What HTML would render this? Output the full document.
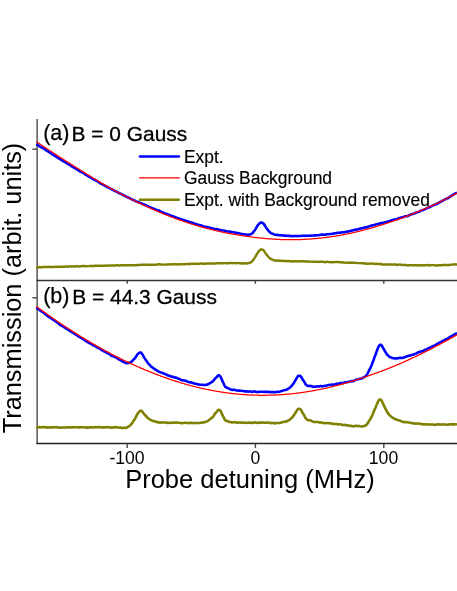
<!DOCTYPE html>
<html><head><meta charset="utf-8">
<style>
html,body{margin:0;padding:0;background:#fff;}
body{width:457px;height:591px;overflow:hidden;position:relative;font-family:"Liberation Sans",sans-serif;}
svg{position:absolute;left:0;top:0;will-change:transform;}
text{font-family:"Liberation Sans",sans-serif;fill:#000;}
</style></head><body>
<svg width="457" height="591" viewBox="0 0 457 591">
<rect width="457" height="591" fill="#fff"/>
<!-- axes -->
<g fill="none">
<line x1="37.15" y1="119" x2="37.15" y2="444" stroke="#555" stroke-width="1.5"/>
<line x1="36.4" y1="280.55" x2="457" y2="280.55" stroke="#333" stroke-width="1.6"/>
<line x1="36.4" y1="443.45" x2="457" y2="443.45" stroke="#222" stroke-width="1.4"/>
<g stroke="#444" stroke-width="1.4">
<line x1="32.3" y1="149.2" x2="37" y2="149.2"/>
<line x1="32.3" y1="297.8" x2="37" y2="297.8"/>
<line x1="127.2" y1="281" x2="127.2" y2="283.8"/>
<line x1="255.4" y1="281" x2="255.4" y2="283.8"/>
<line x1="383.8" y1="281" x2="383.8" y2="283.8"/>
<line x1="127.2" y1="443.5" x2="127.2" y2="447.9"/>
<line x1="255.4" y1="443.5" x2="255.4" y2="447.9"/>
<line x1="383.8" y1="443.5" x2="383.8" y2="447.9"/>
</g>
</g>
<g fill="none" stroke-linejoin="round" stroke-linecap="butt">
<path d="M36.4,267.3 L36.9,267.3 L37.4,267.4 L37.9,267.4 L38.4,267.4 L38.9,267.3 L39.4,267.3 L39.9,267.3 L40.4,267.3 L40.9,267.2 L41.4,267.2 L41.9,267.2 L42.4,267.1 L42.9,267.0 L43.4,266.9 L43.9,266.9 L44.4,266.9 L44.9,267.0 L45.4,267.0 L45.9,267.1 L46.4,267.0 L46.9,267.0 L47.4,266.9 L47.9,266.9 L48.4,266.9 L48.9,267.0 L49.4,266.9 L49.9,266.8 L50.4,266.9 L50.9,266.9 L51.4,267.0 L51.9,267.0 L52.4,267.0 L52.9,267.0 L53.4,266.9 L53.9,266.9 L54.4,266.9 L54.9,266.8 L55.4,266.8 L55.9,266.8 L56.4,266.9 L56.9,266.8 L57.4,266.8 L57.9,266.9 L58.4,266.9 L58.9,266.9 L59.4,266.9 L59.9,266.8 L60.4,266.7 L60.9,266.8 L61.4,266.8 L61.9,266.8 L62.4,266.8 L62.9,266.8 L63.4,266.8 L63.9,266.7 L64.4,266.7 L64.9,266.6 L65.4,266.5 L65.9,266.5 L66.4,266.5 L66.9,266.6 L67.4,266.7 L67.9,266.6 L68.4,266.5 L68.9,266.4 L69.4,266.4 L69.9,266.3 L70.4,266.4 L70.9,266.5 L71.4,266.6 L71.9,266.6 L72.4,266.5 L72.9,266.4 L73.4,266.4 L73.9,266.5 L74.4,266.4 L74.9,266.4 L75.4,266.4 L75.9,266.3 L76.4,266.3 L76.9,266.2 L77.4,266.3 L77.9,266.3 L78.4,266.4 L78.9,266.4 L79.4,266.4 L79.9,266.4 L80.4,266.3 L80.9,266.3 L81.4,266.3 L81.9,266.2 L82.4,266.1 L82.9,266.0 L83.4,265.9 L83.9,265.9 L84.4,265.9 L84.9,266.1 L85.4,266.2 L85.9,266.2 L86.4,266.1 L86.9,266.1 L87.4,266.1 L87.9,266.1 L88.4,266.1 L88.9,266.1 L89.4,266.1 L89.9,266.0 L90.4,266.0 L90.9,265.9 L91.4,265.9 L91.9,265.9 L92.4,265.9 L92.9,265.9 L93.4,266.0 L93.9,266.0 L94.4,265.9 L94.9,265.8 L95.4,265.7 L95.9,265.6 L96.4,265.6 L96.9,265.7 L97.4,265.7 L97.9,265.7 L98.4,265.7 L98.9,265.8 L99.4,265.8 L99.9,265.8 L100.4,265.8 L100.9,265.8 L101.4,265.9 L101.9,265.9 L102.4,265.8 L102.9,265.7 L103.4,265.7 L103.9,265.7 L104.4,265.7 L104.9,265.7 L105.4,265.6 L105.9,265.5 L106.4,265.5 L106.9,265.6 L107.4,265.7 L107.9,265.7 L108.4,265.7 L108.9,265.6 L109.4,265.5 L109.9,265.5 L110.4,265.5 L110.9,265.5 L111.4,265.5 L111.9,265.4 L112.4,265.4 L112.9,265.4 L113.4,265.5 L113.9,265.5 L114.4,265.5 L114.9,265.5 L115.4,265.5 L115.9,265.4 L116.4,265.3 L116.9,265.3 L117.4,265.3 L117.9,265.4 L118.4,265.4 L118.9,265.4 L119.4,265.4 L119.9,265.4 L120.4,265.3 L120.9,265.2 L121.4,265.2 L121.9,265.2 L122.4,265.3 L122.9,265.3 L123.4,265.3 L123.9,265.3 L124.4,265.3 L124.9,265.3 L125.4,265.3 L125.9,265.3 L126.4,265.3 L126.9,265.3 L127.4,265.4 L127.9,265.4 L128.4,265.3 L128.9,265.2 L129.4,265.1 L129.9,265.2 L130.4,265.3 L130.9,265.3 L131.4,265.3 L131.9,265.3 L132.4,265.3 L132.9,265.3 L133.4,265.2 L133.9,265.2 L134.4,265.1 L134.9,265.2 L135.4,265.2 L135.9,265.4 L136.4,265.3 L136.9,265.2 L137.4,265.0 L137.9,264.9 L138.4,264.9 L138.9,265.0 L139.4,265.0 L139.9,264.9 L140.4,264.8 L140.9,264.7 L141.4,264.8 L141.9,264.9 L142.4,264.9 L142.9,264.8 L143.4,264.8 L143.9,264.7 L144.4,264.7 L144.9,264.7 L145.4,264.7 L145.9,264.8 L146.4,264.8 L146.9,264.8 L147.4,264.7 L147.9,264.7 L148.4,264.6 L148.9,264.7 L149.4,264.7 L149.9,264.8 L150.4,264.9 L150.9,264.9 L151.4,264.9 L151.9,264.8 L152.4,264.8 L152.9,264.7 L153.4,264.7 L153.9,264.6 L154.4,264.6 L154.9,264.7 L155.4,264.7 L155.9,264.7 L156.4,264.7 L156.9,264.7 L157.4,264.6 L157.9,264.4 L158.4,264.2 L158.9,264.2 L159.4,264.2 L159.9,264.4 L160.4,264.6 L160.9,264.6 L161.4,264.5 L161.9,264.5 L162.4,264.6 L162.9,264.6 L163.4,264.6 L163.9,264.6 L164.4,264.6 L164.9,264.6 L165.4,264.6 L165.9,264.5 L166.4,264.4 L166.9,264.4 L167.4,264.4 L167.9,264.4 L168.4,264.4 L168.9,264.3 L169.4,264.3 L169.9,264.4 L170.4,264.5 L170.9,264.6 L171.4,264.5 L171.9,264.4 L172.4,264.3 L172.9,264.2 L173.4,264.2 L173.9,264.2 L174.4,264.2 L174.9,264.2 L175.4,264.2 L175.9,264.3 L176.4,264.4 L176.9,264.4 L177.4,264.4 L177.9,264.3 L178.4,264.2 L178.9,264.1 L179.4,264.1 L179.9,264.3 L180.4,264.4 L180.9,264.4 L181.4,264.3 L181.9,264.2 L182.4,264.1 L182.9,264.1 L183.4,264.1 L183.9,264.2 L184.4,264.2 L184.9,264.2 L185.4,264.1 L185.9,264.0 L186.4,264.0 L186.9,264.1 L187.4,264.1 L187.9,264.0 L188.4,263.9 L188.9,263.9 L189.4,263.9 L189.9,263.9 L190.4,263.9 L190.9,263.9 L191.4,263.8 L191.9,263.8 L192.4,263.7 L192.9,263.7 L193.4,263.8 L193.9,263.8 L194.4,263.9 L194.9,263.9 L195.4,263.9 L195.9,263.8 L196.4,263.8 L196.9,263.7 L197.4,263.7 L197.9,263.8 L198.4,263.8 L198.9,263.9 L199.4,263.8 L199.9,263.7 L200.4,263.6 L200.9,263.5 L201.4,263.5 L201.9,263.5 L202.4,263.6 L202.9,263.7 L203.4,263.8 L203.9,263.8 L204.4,263.8 L204.9,263.8 L205.4,263.8 L205.9,263.6 L206.4,263.5 L206.9,263.4 L207.4,263.6 L207.9,263.6 L208.4,263.6 L208.9,263.5 L209.4,263.4 L209.9,263.4 L210.4,263.4 L210.9,263.5 L211.4,263.5 L211.9,263.5 L212.4,263.4 L212.9,263.4 L213.4,263.4 L213.9,263.5 L214.4,263.6 L214.9,263.6 L215.4,263.5 L215.9,263.4 L216.4,263.2 L216.9,263.1 L217.4,263.1 L217.9,263.2 L218.4,263.3 L218.9,263.3 L219.4,263.3 L219.9,263.1 L220.4,263.1 L220.9,263.3 L221.4,263.4 L221.9,263.5 L222.4,263.3 L222.9,263.2 L223.4,263.1 L223.9,263.1 L224.4,263.1 L224.9,263.1 L225.4,263.1 L225.9,263.2 L226.4,263.3 L226.9,263.4 L227.4,263.3 L227.9,263.2 L228.4,263.2 L228.9,263.1 L229.4,263.1 L229.9,263.0 L230.4,262.9 L230.9,263.0 L231.4,263.1 L231.9,263.1 L232.4,263.2 L232.9,263.1 L233.4,263.0 L233.9,263.0 L234.4,263.0 L234.9,263.1 L235.4,263.2 L235.9,263.2 L236.4,263.1 L236.9,263.0 L237.4,263.0 L237.9,263.1 L238.4,263.1 L238.9,263.1 L239.4,263.3 L239.9,263.3 L240.4,263.4 L240.9,263.2 L241.4,263.3 L241.9,263.3 L242.4,263.5 L242.9,263.5 L243.4,263.5 L243.9,263.3 L244.4,263.3 L244.9,263.2 L245.4,263.3 L245.9,263.4 L246.4,263.4 L247.0,263.4 L247.5,263.4 L248.0,263.2 L248.5,263.1 L249.0,263.0 L249.5,262.9 L250.0,262.7 L250.5,262.5 L251.0,262.2 L251.5,261.8 L252.0,261.4 L252.5,260.9 L253.0,260.3 L253.5,259.6 L254.0,258.9 L254.5,258.2 L255.0,257.4 L255.5,256.6 L256.0,255.7 L256.5,254.8 L257.0,253.9 L257.5,253.1 L258.0,252.3 L258.5,251.6 L259.0,251.0 L259.5,250.5 L260.0,250.1 L260.5,249.7 L261.0,249.4 L261.5,249.4 L262.0,249.5 L262.5,249.7 L263.0,249.9 L263.5,250.3 L264.0,250.8 L264.5,251.6 L265.0,252.3 L265.5,253.1 L266.0,253.8 L266.5,254.5 L267.0,255.2 L267.5,255.8 L268.0,256.4 L268.5,257.0 L269.0,257.5 L269.5,258.0 L270.0,258.4 L270.5,258.8 L271.0,259.1 L271.5,259.4 L272.0,259.5 L272.5,259.6 L273.0,259.8 L273.5,260.1 L274.0,260.3 L274.5,260.4 L275.0,260.4 L275.5,260.6 L276.0,260.7 L276.5,260.7 L277.0,260.6 L277.5,260.5 L278.0,260.5 L278.5,260.7 L279.0,260.8 L279.5,260.9 L280.0,260.8 L280.5,260.8 L281.0,260.8 L281.5,260.9 L282.0,260.8 L282.5,260.9 L283.0,260.9 L283.5,261.0 L284.0,260.9 L284.5,260.9 L285.0,260.9 L285.5,261.0 L286.0,261.2 L286.5,261.2 L287.0,261.1 L287.5,261.0 L288.0,260.9 L288.5,261.0 L289.0,261.1 L289.5,261.2 L290.0,261.2 L290.5,261.1 L291.0,261.2 L291.5,261.4 L292.0,261.5 L292.5,261.5 L293.0,261.4 L293.5,261.3 L294.0,261.2 L294.5,261.2 L295.0,261.2 L295.5,261.3 L296.0,261.3 L296.5,261.4 L297.0,261.4 L297.5,261.4 L298.0,261.3 L298.5,261.3 L299.0,261.3 L299.5,261.3 L300.0,261.4 L300.5,261.4 L301.0,261.4 L301.5,261.3 L302.0,261.3 L302.5,261.3 L303.0,261.3 L303.5,261.3 L304.0,261.3 L304.5,261.4 L305.0,261.5 L305.5,261.5 L306.0,261.5 L306.5,261.4 L307.0,261.4 L307.5,261.5 L308.0,261.5 L308.5,261.5 L309.0,261.5 L309.5,261.6 L310.0,261.6 L310.5,261.6 L311.0,261.6 L311.5,261.6 L312.0,261.6 L312.5,261.6 L313.0,261.7 L313.5,261.7 L314.0,261.7 L314.5,261.7 L315.0,261.7 L315.5,261.8 L316.0,261.8 L316.5,261.7 L317.0,261.7 L317.5,261.8 L318.0,261.9 L318.5,261.9 L319.0,261.8 L319.5,261.7 L320.0,261.7 L320.5,261.7 L321.0,261.6 L321.5,261.6 L322.0,261.6 L322.5,261.7 L323.0,261.8 L323.5,261.9 L324.0,262.0 L324.5,262.1 L325.0,262.2 L325.5,262.2 L326.0,262.0 L326.5,261.9 L327.0,261.8 L327.5,261.9 L328.0,262.0 L328.5,262.1 L329.0,262.1 L329.5,262.1 L330.0,262.0 L330.5,262.1 L331.0,262.2 L331.5,262.2 L332.0,262.2 L332.5,262.2 L333.0,262.1 L333.5,262.0 L334.0,262.0 L334.5,262.0 L335.0,262.1 L335.5,262.1 L336.0,262.1 L336.5,262.0 L337.0,262.0 L337.5,262.0 L338.0,262.0 L338.5,262.0 L339.0,262.1 L339.5,262.3 L340.0,262.3 L340.5,262.3 L341.0,262.3 L341.5,262.2 L342.0,262.2 L342.5,262.3 L343.0,262.4 L343.5,262.6 L344.0,262.7 L344.5,262.7 L345.0,262.6 L345.5,262.6 L346.0,262.6 L346.5,262.6 L347.0,262.6 L347.5,262.7 L348.0,262.8 L348.5,262.7 L349.0,262.7 L349.5,262.7 L350.0,262.8 L350.5,262.8 L351.0,262.8 L351.5,262.7 L352.0,262.7 L352.5,262.8 L353.0,262.9 L353.5,262.8 L354.0,262.8 L354.5,262.7 L355.0,262.7 L355.5,262.8 L356.0,262.9 L356.5,263.0 L357.0,263.1 L357.5,263.1 L358.0,263.1 L358.5,263.1 L359.0,263.1 L359.5,263.1 L360.0,263.1 L360.5,263.1 L361.0,263.1 L361.5,263.2 L362.0,263.2 L362.5,263.2 L363.0,263.2 L363.5,263.3 L364.0,263.3 L364.5,263.4 L365.0,263.4 L365.5,263.5 L366.0,263.7 L366.5,263.8 L367.0,263.8 L367.5,263.7 L368.0,263.7 L368.5,263.7 L369.0,263.6 L369.5,263.6 L370.0,263.6 L370.5,263.6 L371.0,263.5 L371.5,263.5 L372.0,263.5 L372.5,263.6 L373.0,263.7 L373.5,263.8 L374.0,263.8 L374.5,263.9 L375.0,263.9 L375.5,263.9 L376.0,263.8 L376.5,263.8 L377.0,263.9 L377.5,264.0 L378.0,264.0 L378.5,263.9 L379.0,264.0 L379.5,264.0 L380.0,264.0 L380.5,263.9 L381.0,264.0 L381.5,264.2 L382.0,264.4 L382.5,264.4 L383.0,264.4 L383.5,264.4 L384.0,264.4 L384.5,264.4 L385.0,264.4 L385.5,264.4 L386.0,264.4 L386.5,264.5 L387.0,264.5 L387.5,264.6 L388.0,264.7 L388.5,264.6 L389.0,264.4 L389.5,264.3 L390.0,264.4 L390.5,264.5 L391.0,264.6 L391.5,264.5 L392.0,264.5 L392.5,264.4 L393.0,264.4 L393.5,264.5 L394.0,264.5 L394.5,264.4 L395.0,264.5 L395.5,264.5 L396.0,264.7 L396.5,264.8 L397.0,265.0 L397.5,264.9 L398.0,264.8 L398.5,264.6 L399.0,264.5 L399.5,264.6 L400.0,264.6 L400.5,264.7 L401.0,264.7 L401.5,264.7 L402.0,264.8 L402.5,264.9 L403.0,264.9 L403.5,264.9 L404.0,264.9 L404.5,264.9 L405.0,264.8 L405.5,264.9 L406.0,265.1 L406.5,265.3 L407.0,265.4 L407.5,265.4 L408.0,265.3 L408.5,265.2 L409.0,265.2 L409.5,265.2 L410.0,265.2 L410.5,265.1 L411.0,265.1 L411.5,265.1 L412.0,265.1 L412.5,265.2 L413.0,265.3 L413.5,265.4 L414.0,265.4 L414.5,265.3 L415.0,265.3 L415.5,265.3 L416.0,265.3 L416.5,265.3 L417.0,265.3 L417.5,265.4 L418.0,265.4 L418.5,265.4 L419.0,265.3 L419.5,265.3 L420.0,265.3 L420.5,265.3 L421.0,265.2 L421.5,265.2 L422.0,265.2 L422.5,265.4 L423.0,265.4 L423.5,265.4 L424.0,265.3 L424.5,265.3 L425.0,265.3 L425.5,265.3 L426.0,265.2 L426.5,265.1 L427.0,265.0 L427.5,265.0 L428.0,265.1 L428.5,265.2 L429.0,265.3 L429.5,265.4 L430.0,265.4 L430.5,265.3 L431.0,265.1 L431.5,265.1 L432.0,265.1 L432.5,265.1 L433.0,265.1 L433.5,265.1 L434.0,265.1 L434.5,265.2 L435.0,265.3 L435.5,265.4 L436.0,265.4 L436.5,265.4 L437.0,265.4 L437.5,265.4 L438.0,265.4 L438.5,265.3 L439.0,265.2 L439.5,265.1 L440.0,265.2 L440.5,265.1 L441.0,265.2 L441.5,265.2 L442.0,265.2 L442.5,265.1 L443.0,265.0 L443.5,264.9 L444.0,265.0 L444.5,265.0 L445.0,265.0 L445.5,265.0 L446.0,265.0 L446.5,265.0 L447.0,265.0 L447.5,265.1 L448.0,265.2 L448.5,265.2 L449.0,265.0 L449.5,264.9 L450.0,264.8 L450.5,264.8 L451.0,264.7 L451.5,264.7 L452.0,264.6 L452.5,264.6 L453.0,264.5 L453.5,264.4 L454.0,264.3 L454.5,264.4 L455.0,264.4 L455.5,264.5 L456.0,264.4 L456.5,264.4 L457.0,264.4" stroke="#808000" stroke-width="2.45"/>
<path d="M36.4,144.1 L36.9,144.5 L37.4,144.9 L37.9,145.2 L38.4,145.5 L38.9,145.8 L39.4,146.2 L39.9,146.5 L40.4,146.8 L40.9,147.1 L41.4,147.4 L41.9,147.7 L42.4,147.9 L42.9,148.1 L43.4,148.3 L43.9,148.7 L44.4,149.0 L44.9,149.4 L45.4,149.8 L45.9,150.2 L46.4,150.5 L46.9,150.7 L47.4,151.0 L47.9,151.3 L48.4,151.7 L48.9,152.1 L49.4,152.3 L49.9,152.6 L50.4,152.9 L50.9,153.3 L51.4,153.7 L51.9,154.0 L52.4,154.4 L52.9,154.7 L53.4,155.0 L53.9,155.3 L54.4,155.6 L54.9,155.9 L55.4,156.2 L55.9,156.5 L56.4,156.9 L56.9,157.2 L57.4,157.5 L57.9,157.8 L58.4,158.2 L58.9,158.6 L59.4,158.8 L59.9,159.1 L60.4,159.3 L60.9,159.7 L61.4,160.0 L61.9,160.4 L62.4,160.7 L62.9,161.0 L63.4,161.3 L63.9,161.5 L64.4,161.8 L64.9,162.0 L65.4,162.3 L65.9,162.6 L66.4,162.9 L66.9,163.3 L67.4,163.7 L67.9,164.0 L68.4,164.2 L68.9,164.4 L69.4,164.7 L69.9,165.0 L70.4,165.4 L70.9,165.8 L71.4,166.2 L71.9,166.5 L72.4,166.7 L72.9,167.0 L73.4,167.3 L73.9,167.7 L74.4,167.9 L74.9,168.2 L75.4,168.5 L75.9,168.8 L76.4,169.0 L76.9,169.3 L77.4,169.6 L77.9,170.0 L78.4,170.4 L78.9,170.7 L79.4,171.0 L79.9,171.3 L80.4,171.6 L80.9,171.9 L81.4,172.2 L81.9,172.4 L82.4,172.6 L82.9,172.8 L83.4,173.0 L83.9,173.3 L84.4,173.7 L84.9,174.1 L85.4,174.6 L85.9,174.9 L86.4,175.1 L86.9,175.4 L87.4,175.7 L87.9,176.0 L88.4,176.3 L88.9,176.6 L89.4,176.9 L89.9,177.2 L90.4,177.4 L90.9,177.7 L91.4,178.0 L91.9,178.2 L92.4,178.6 L92.9,178.9 L93.4,179.3 L93.9,179.5 L94.4,179.8 L94.9,180.0 L95.4,180.2 L95.9,180.4 L96.4,180.7 L96.9,181.1 L97.4,181.3 L97.9,181.7 L98.4,182.0 L98.9,182.4 L99.4,182.7 L99.9,183.0 L100.4,183.2 L100.9,183.6 L101.4,183.9 L101.9,184.2 L102.4,184.5 L102.9,184.6 L103.4,184.9 L103.9,185.2 L104.4,185.5 L104.9,185.7 L105.4,186.0 L105.9,186.2 L106.4,186.5 L106.9,186.8 L107.4,187.2 L107.9,187.5 L108.4,187.7 L108.9,187.9 L109.4,188.1 L109.9,188.3 L110.4,188.6 L110.9,188.9 L111.4,189.1 L111.9,189.3 L112.4,189.6 L112.9,189.9 L113.4,190.2 L113.9,190.5 L114.4,190.7 L114.9,191.0 L115.4,191.3 L115.9,191.5 L116.4,191.6 L116.9,191.8 L117.4,192.1 L117.9,192.5 L118.4,192.7 L118.9,193.0 L119.4,193.2 L119.9,193.5 L120.4,193.7 L120.9,193.9 L121.4,194.1 L121.9,194.4 L122.4,194.7 L122.9,195.0 L123.4,195.2 L123.9,195.4 L124.4,195.7 L124.9,195.9 L125.4,196.2 L125.9,196.4 L126.4,196.7 L126.9,197.0 L127.4,197.3 L127.9,197.5 L128.4,197.6 L128.9,197.8 L129.4,198.0 L129.9,198.4 L130.4,198.7 L130.9,198.9 L131.4,199.2 L131.9,199.4 L132.4,199.6 L132.9,199.9 L133.4,200.0 L133.9,200.3 L134.4,200.4 L134.9,200.7 L135.4,201.0 L135.9,201.4 L136.4,201.6 L136.9,201.7 L137.4,201.7 L137.9,201.8 L138.4,202.1 L138.9,202.4 L139.4,202.6 L139.9,202.8 L140.4,202.9 L140.9,203.1 L141.4,203.4 L141.9,203.7 L142.4,203.9 L142.9,204.1 L143.4,204.2 L143.9,204.4 L144.4,204.6 L144.9,204.8 L145.4,205.1 L145.9,205.4 L146.4,205.7 L146.9,205.9 L147.4,206.0 L147.9,206.2 L148.4,206.4 L148.9,206.6 L149.4,206.9 L149.9,207.1 L150.4,207.5 L150.9,207.7 L151.4,208.0 L151.9,208.1 L152.4,208.3 L152.9,208.4 L153.4,208.6 L153.9,208.7 L154.4,209.0 L154.9,209.3 L155.4,209.5 L155.9,209.7 L156.4,209.9 L156.9,210.1 L157.4,210.2 L157.9,210.3 L158.4,210.3 L158.9,210.4 L159.4,210.7 L159.9,211.1 L160.4,211.5 L160.9,211.7 L161.4,211.8 L161.9,212.0 L162.4,212.3 L162.9,212.6 L163.4,212.7 L163.9,212.9 L164.4,213.2 L164.9,213.4 L165.4,213.6 L165.9,213.7 L166.4,213.8 L166.9,214.0 L167.4,214.2 L167.9,214.4 L168.4,214.6 L168.9,214.7 L169.4,214.9 L169.9,215.2 L170.4,215.5 L170.9,215.7 L171.4,215.9 L171.9,216.0 L172.4,216.0 L172.9,216.1 L173.4,216.4 L173.9,216.6 L174.4,216.8 L174.9,216.9 L175.4,217.1 L175.9,217.4 L176.4,217.7 L176.9,217.9 L177.4,218.0 L177.9,218.2 L178.4,218.2 L178.9,218.4 L179.4,218.5 L179.9,218.9 L180.4,219.1 L180.9,219.3 L181.4,219.4 L181.9,219.5 L182.4,219.7 L182.9,219.8 L183.4,220.0 L183.9,220.2 L184.4,220.5 L184.9,220.6 L185.4,220.7 L185.9,220.8 L186.4,221.0 L186.9,221.3 L187.4,221.4 L187.9,221.5 L188.4,221.6 L188.9,221.7 L189.4,221.9 L189.9,222.2 L190.4,222.3 L190.9,222.4 L191.4,222.5 L191.9,222.7 L192.4,222.8 L192.9,223.0 L193.4,223.2 L193.9,223.4 L194.4,223.6 L194.9,223.8 L195.4,224.0 L195.9,224.1 L196.4,224.2 L196.9,224.3 L197.4,224.4 L197.9,224.6 L198.4,224.9 L198.9,225.1 L199.4,225.1 L199.9,225.2 L200.4,225.2 L200.9,225.4 L201.4,225.5 L201.9,225.7 L202.4,225.9 L202.9,226.1 L203.4,226.4 L203.9,226.5 L204.4,226.7 L204.9,226.8 L205.4,226.9 L205.9,226.9 L206.4,226.9 L206.9,227.0 L207.4,227.2 L207.9,227.5 L208.4,227.5 L208.9,227.5 L209.4,227.6 L209.9,227.7 L210.4,227.9 L210.9,228.1 L211.4,228.2 L211.9,228.3 L212.4,228.4 L212.9,228.5 L213.4,228.6 L213.9,228.8 L214.4,229.0 L214.9,229.2 L215.4,229.2 L215.9,229.2 L216.4,229.1 L216.9,229.1 L217.4,229.2 L217.9,229.4 L218.4,229.6 L218.9,229.8 L219.4,229.8 L219.9,229.8 L220.4,229.9 L220.9,230.1 L221.4,230.4 L221.9,230.5 L222.4,230.5 L222.9,230.5 L223.4,230.5 L223.9,230.6 L224.4,230.7 L224.9,230.8 L225.4,230.9 L225.9,231.0 L226.4,231.3 L226.9,231.4 L227.4,231.5 L227.9,231.5 L228.4,231.5 L228.9,231.6 L229.4,231.6 L229.9,231.6 L230.4,231.6 L230.9,231.8 L231.4,231.9 L231.9,232.1 L232.4,232.2 L232.9,232.2 L233.4,232.2 L233.9,232.3 L234.4,232.4 L234.9,232.6 L235.4,232.7 L235.9,232.8 L236.4,232.8 L236.9,232.8 L237.4,232.9 L237.9,233.1 L238.4,233.2 L238.9,233.3 L239.4,233.5 L239.9,233.6 L240.4,233.7 L240.9,233.7 L241.4,233.8 L241.9,233.9 L242.4,234.2 L242.9,234.2 L243.4,234.3 L243.9,234.2 L244.4,234.3 L244.9,234.3 L245.4,234.4 L245.9,234.6 L246.4,234.7 L247.0,234.8 L247.5,234.8 L248.0,234.7 L248.5,234.7 L249.0,234.6 L249.5,234.6 L250.0,234.5 L250.5,234.3 L251.0,234.1 L251.5,233.8 L252.0,233.4 L252.5,233.0 L253.0,232.5 L253.5,231.8 L254.0,231.2 L254.5,230.6 L255.0,229.9 L255.5,229.1 L256.0,228.2 L256.5,227.4 L257.0,226.5 L257.5,225.8 L258.0,225.1 L258.5,224.4 L259.0,223.9 L259.5,223.4 L260.0,223.0 L260.5,222.7 L261.0,222.5 L261.5,222.5 L262.0,222.7 L262.5,223.0 L263.0,223.2 L263.5,223.6 L264.0,224.2 L264.5,225.0 L265.0,225.8 L265.5,226.6 L266.0,227.4 L266.5,228.2 L267.0,228.8 L267.5,229.5 L268.0,230.1 L268.5,230.8 L269.0,231.3 L269.5,231.8 L270.0,232.3 L270.5,232.7 L271.0,233.1 L271.5,233.4 L272.0,233.5 L272.5,233.7 L273.0,233.9 L273.5,234.2 L274.0,234.4 L274.5,234.6 L275.0,234.7 L275.5,234.8 L276.0,234.9 L276.5,235.0 L277.0,234.9 L277.5,234.9 L278.0,234.9 L278.5,235.1 L279.0,235.2 L279.5,235.3 L280.0,235.3 L280.5,235.3 L281.0,235.3 L281.5,235.4 L282.0,235.4 L282.5,235.5 L283.0,235.5 L283.5,235.6 L284.0,235.6 L284.5,235.6 L285.0,235.6 L285.5,235.7 L286.0,235.9 L286.5,235.9 L287.0,235.8 L287.5,235.7 L288.0,235.7 L288.5,235.8 L289.0,235.9 L289.5,235.9 L290.0,235.9 L290.5,235.9 L291.0,236.0 L291.5,236.1 L292.0,236.3 L292.5,236.3 L293.0,236.2 L293.5,236.0 L294.0,236.0 L294.5,236.0 L295.0,236.0 L295.5,236.0 L296.0,236.0 L296.5,236.1 L297.0,236.1 L297.5,236.1 L298.0,236.0 L298.5,236.0 L299.0,235.9 L299.5,236.0 L300.0,236.0 L300.5,236.0 L301.0,236.0 L301.5,235.9 L302.0,235.9 L302.5,235.8 L303.0,235.8 L303.5,235.8 L304.0,235.8 L304.5,235.8 L305.0,235.9 L305.5,235.9 L306.0,235.8 L306.5,235.8 L307.0,235.7 L307.5,235.7 L308.0,235.7 L308.5,235.7 L309.0,235.7 L309.5,235.7 L310.0,235.7 L310.5,235.7 L311.0,235.6 L311.5,235.6 L312.0,235.5 L312.5,235.5 L313.0,235.6 L313.5,235.5 L314.0,235.5 L314.5,235.4 L315.0,235.4 L315.5,235.4 L316.0,235.4 L316.5,235.3 L317.0,235.2 L317.5,235.3 L318.0,235.3 L318.5,235.3 L319.0,235.1 L319.5,235.0 L320.0,234.9 L320.5,234.8 L321.0,234.7 L321.5,234.6 L322.0,234.6 L322.5,234.6 L323.0,234.6 L323.5,234.7 L324.0,234.7 L324.5,234.8 L325.0,234.8 L325.5,234.7 L326.0,234.5 L326.5,234.3 L327.0,234.2 L327.5,234.2 L328.0,234.2 L328.5,234.3 L329.0,234.2 L329.5,234.1 L330.0,234.0 L330.5,234.0 L331.0,234.0 L331.5,234.0 L332.0,233.9 L332.5,233.8 L333.0,233.7 L333.5,233.5 L334.0,233.4 L334.5,233.3 L335.0,233.3 L335.5,233.3 L336.0,233.2 L336.5,233.0 L337.0,233.0 L337.5,232.8 L338.0,232.7 L338.5,232.7 L339.0,232.7 L339.5,232.8 L340.0,232.8 L340.5,232.7 L341.0,232.5 L341.5,232.4 L342.0,232.2 L342.5,232.2 L343.0,232.3 L343.5,232.4 L344.0,232.4 L344.5,232.2 L345.0,232.1 L345.5,231.9 L346.0,231.8 L346.5,231.7 L347.0,231.7 L347.5,231.6 L348.0,231.6 L348.5,231.4 L349.0,231.3 L349.5,231.2 L350.0,231.1 L350.5,231.0 L351.0,230.9 L351.5,230.6 L352.0,230.5 L352.5,230.5 L353.0,230.4 L353.5,230.2 L354.0,230.0 L354.5,229.9 L355.0,229.7 L355.5,229.7 L356.0,229.6 L356.5,229.6 L357.0,229.5 L357.5,229.4 L358.0,229.2 L358.5,229.2 L359.0,229.0 L359.5,228.9 L360.0,228.6 L360.5,228.5 L361.0,228.4 L361.5,228.3 L362.0,228.2 L362.5,228.1 L363.0,227.9 L363.5,227.8 L364.0,227.7 L364.5,227.6 L365.0,227.4 L365.5,227.4 L366.0,227.4 L366.5,227.4 L367.0,227.3 L367.5,227.0 L368.0,226.8 L368.5,226.6 L369.0,226.4 L369.5,226.2 L370.0,226.1 L370.5,225.9 L371.0,225.7 L371.5,225.5 L372.0,225.4 L372.5,225.4 L373.0,225.3 L373.5,225.2 L374.0,225.1 L374.5,225.0 L375.0,224.8 L375.5,224.7 L376.0,224.4 L376.5,224.3 L377.0,224.2 L377.5,224.1 L378.0,224.0 L378.5,223.8 L379.0,223.7 L379.5,223.5 L380.0,223.4 L380.5,223.2 L381.0,223.1 L381.5,223.1 L382.0,223.2 L382.5,223.0 L383.0,222.9 L383.5,222.7 L384.0,222.6 L384.5,222.4 L385.0,222.3 L385.5,222.1 L386.0,222.0 L386.5,221.9 L387.0,221.8 L387.5,221.8 L388.0,221.7 L388.5,221.4 L389.0,221.1 L389.5,220.9 L390.0,220.8 L390.5,220.7 L391.0,220.7 L391.5,220.5 L392.0,220.2 L392.5,220.0 L393.0,219.9 L393.5,219.8 L394.0,219.7 L394.5,219.5 L395.0,219.3 L395.5,219.2 L396.0,219.2 L396.5,219.2 L397.0,219.2 L397.5,219.0 L398.0,218.7 L398.5,218.3 L399.0,218.1 L399.5,218.0 L400.0,217.9 L400.5,217.8 L401.0,217.6 L401.5,217.5 L402.0,217.3 L402.5,217.3 L403.0,217.1 L403.5,217.0 L404.0,216.8 L404.5,216.6 L405.0,216.4 L405.5,216.2 L406.0,216.3 L406.5,216.3 L407.0,216.3 L407.5,216.0 L408.0,215.8 L408.5,215.5 L409.0,215.4 L409.5,215.1 L410.0,214.9 L410.5,214.7 L411.0,214.5 L411.5,214.3 L412.0,214.1 L412.5,214.0 L413.0,213.9 L413.5,213.8 L414.0,213.6 L414.5,213.4 L415.0,213.2 L415.5,213.0 L416.0,212.7 L416.5,212.6 L417.0,212.4 L417.5,212.3 L418.0,212.1 L418.5,211.9 L419.0,211.6 L419.5,211.4 L420.0,211.2 L420.5,211.0 L421.0,210.6 L421.5,210.4 L422.0,210.3 L422.5,210.3 L423.0,210.1 L423.5,209.9 L424.0,209.5 L424.5,209.3 L425.0,209.1 L425.5,208.9 L426.0,208.6 L426.5,208.3 L427.0,208.0 L427.5,207.8 L428.0,207.6 L428.5,207.5 L429.0,207.4 L429.5,207.3 L430.0,207.0 L430.5,206.7 L431.0,206.3 L431.5,206.0 L432.0,205.8 L432.5,205.6 L433.0,205.4 L433.5,205.2 L434.0,204.9 L434.5,204.8 L435.0,204.6 L435.5,204.5 L436.0,204.2 L436.5,204.0 L437.0,203.8 L437.5,203.6 L438.0,203.3 L438.5,203.0 L439.0,202.7 L439.5,202.3 L440.0,202.1 L440.5,201.8 L441.0,201.6 L441.5,201.4 L442.0,201.2 L442.5,200.8 L443.0,200.4 L443.5,200.1 L444.0,199.9 L444.5,199.7 L445.0,199.4 L445.5,199.2 L446.0,198.9 L446.5,198.7 L447.0,198.4 L447.5,198.3 L448.0,198.1 L448.5,197.8 L449.0,197.4 L449.5,197.0 L450.0,196.6 L450.5,196.4 L451.0,196.1 L451.5,195.8 L452.0,195.4 L452.5,195.1 L453.0,194.8 L453.5,194.4 L454.0,194.1 L454.5,193.8 L455.0,193.6 L455.5,193.4 L456.0,193.1 L456.5,192.8 L457.0,192.5" stroke="#0000ff" stroke-width="2.6"/>
<path d="M36.4,141.7 L36.9,142.0 L37.4,142.4 L37.9,142.7 L38.4,143.0 L38.9,143.4 L39.4,143.7 L39.9,144.0 L40.4,144.4 L40.9,144.7 L41.4,145.0 L41.9,145.4 L42.4,145.7 L42.9,146.0 L43.4,146.4 L43.9,146.7 L44.4,147.0 L44.9,147.4 L45.4,147.7 L45.9,148.0 L46.4,148.4 L46.9,148.7 L47.4,149.0 L47.9,149.3 L48.4,149.7 L48.9,150.0 L49.4,150.3 L49.9,150.7 L50.4,151.0 L50.9,151.3 L51.4,151.6 L51.9,152.0 L52.4,152.3 L52.9,152.6 L53.4,153.0 L53.9,153.3 L54.4,153.6 L54.9,153.9 L55.4,154.3 L55.9,154.6 L56.4,154.9 L56.9,155.2 L57.4,155.6 L57.9,155.9 L58.4,156.2 L58.9,156.5 L59.4,156.8 L59.9,157.2 L60.4,157.5 L60.9,157.8 L61.4,158.1 L61.9,158.5 L62.4,158.8 L62.9,159.1 L63.4,159.4 L63.9,159.7 L64.4,160.1 L64.9,160.4 L65.4,160.7 L65.9,161.0 L66.4,161.3 L66.9,161.6 L67.4,162.0 L67.9,162.3 L68.4,162.6 L68.9,162.9 L69.4,163.2 L69.9,163.5 L70.4,163.9 L70.9,164.2 L71.4,164.5 L71.9,164.8 L72.4,165.1 L72.9,165.4 L73.4,165.8 L73.9,166.1 L74.4,166.4 L74.9,166.7 L75.4,167.0 L75.9,167.3 L76.4,167.6 L76.9,168.0 L77.4,168.3 L77.9,168.6 L78.4,168.9 L78.9,169.2 L79.4,169.5 L79.9,169.8 L80.4,170.2 L80.9,170.5 L81.4,170.8 L81.9,171.1 L82.4,171.4 L82.9,171.7 L83.4,172.0 L83.9,172.3 L84.4,172.6 L84.9,173.0 L85.4,173.3 L85.9,173.6 L86.4,173.9 L86.9,174.2 L87.4,174.5 L87.9,174.8 L88.4,175.1 L88.9,175.4 L89.4,175.7 L89.9,176.0 L90.4,176.4 L90.9,176.7 L91.4,177.0 L91.9,177.3 L92.4,177.6 L92.9,177.9 L93.4,178.2 L93.9,178.5 L94.4,178.8 L94.9,179.1 L95.4,179.4 L95.9,179.7 L96.4,180.0 L96.9,180.3 L97.4,180.7 L97.9,181.0 L98.4,181.3 L98.9,181.6 L99.4,181.9 L99.9,182.2 L100.4,182.5 L100.9,182.8 L101.4,183.1 L101.9,183.4 L102.4,183.6 L102.9,183.9 L103.4,184.2 L103.9,184.5 L104.4,184.8 L104.9,185.1 L105.4,185.4 L105.9,185.7 L106.4,186.0 L106.9,186.3 L107.4,186.6 L107.9,186.8 L108.4,187.1 L108.9,187.4 L109.4,187.7 L109.9,188.0 L110.4,188.2 L110.9,188.5 L111.4,188.8 L111.9,189.1 L112.4,189.3 L112.9,189.6 L113.4,189.9 L113.9,190.2 L114.4,190.4 L114.9,190.7 L115.4,191.0 L115.9,191.2 L116.4,191.5 L116.9,191.8 L117.4,192.0 L117.9,192.3 L118.4,192.6 L118.9,192.8 L119.4,193.1 L119.9,193.4 L120.4,193.6 L120.9,193.9 L121.4,194.2 L121.9,194.4 L122.4,194.7 L122.9,194.9 L123.4,195.2 L123.9,195.5 L124.4,195.7 L124.9,196.0 L125.4,196.2 L125.9,196.5 L126.4,196.7 L126.9,197.0 L127.4,197.3 L127.9,197.5 L128.4,197.8 L128.9,198.0 L129.4,198.3 L129.9,198.5 L130.4,198.8 L130.9,199.0 L131.4,199.3 L131.9,199.5 L132.4,199.8 L132.9,200.0 L133.4,200.2 L133.9,200.5 L134.4,200.7 L134.9,201.0 L135.4,201.2 L135.9,201.5 L136.4,201.7 L136.9,202.0 L137.4,202.2 L137.9,202.4 L138.4,202.7 L138.9,202.9 L139.4,203.2 L139.9,203.4 L140.4,203.6 L140.9,203.9 L141.4,204.1 L141.9,204.3 L142.4,204.6 L142.9,204.8 L143.4,205.0 L143.9,205.3 L144.4,205.5 L144.9,205.7 L145.4,206.0 L145.9,206.2 L146.4,206.4 L146.9,206.6 L147.4,206.9 L147.9,207.1 L148.4,207.3 L148.9,207.5 L149.4,207.8 L149.9,208.0 L150.4,208.2 L150.9,208.4 L151.4,208.7 L151.9,208.9 L152.4,209.1 L152.9,209.3 L153.4,209.5 L153.9,209.8 L154.4,210.0 L154.9,210.2 L155.4,210.4 L155.9,210.6 L156.4,210.8 L156.9,211.1 L157.4,211.3 L157.9,211.5 L158.4,211.7 L158.9,211.9 L159.4,212.1 L159.9,212.3 L160.4,212.5 L160.9,212.7 L161.4,213.0 L161.9,213.2 L162.4,213.4 L162.9,213.6 L163.4,213.8 L163.9,214.0 L164.4,214.2 L164.9,214.4 L165.4,214.6 L165.9,214.8 L166.4,215.0 L166.9,215.2 L167.4,215.4 L167.9,215.6 L168.4,215.8 L168.9,216.0 L169.4,216.2 L169.9,216.4 L170.4,216.6 L170.9,216.8 L171.4,217.0 L171.9,217.1 L172.4,217.3 L172.9,217.5 L173.4,217.7 L173.9,217.9 L174.4,218.1 L174.9,218.3 L175.4,218.5 L175.9,218.7 L176.4,218.8 L176.9,219.0 L177.4,219.2 L177.9,219.4 L178.4,219.6 L178.9,219.7 L179.4,219.9 L179.9,220.1 L180.4,220.3 L180.9,220.5 L181.4,220.6 L181.9,220.8 L182.4,221.0 L182.9,221.2 L183.4,221.3 L183.9,221.5 L184.4,221.7 L184.9,221.8 L185.4,222.0 L185.9,222.2 L186.4,222.3 L186.9,222.5 L187.4,222.7 L187.9,222.8 L188.4,223.0 L188.9,223.2 L189.4,223.3 L189.9,223.5 L190.4,223.6 L190.9,223.8 L191.4,224.0 L191.9,224.1 L192.4,224.3 L192.9,224.4 L193.4,224.6 L193.9,224.7 L194.4,224.9 L194.9,225.0 L195.4,225.2 L195.9,225.3 L196.4,225.5 L196.9,225.6 L197.4,225.8 L197.9,225.9 L198.4,226.1 L198.9,226.2 L199.4,226.4 L199.9,226.5 L200.4,226.6 L200.9,226.8 L201.4,226.9 L201.9,227.1 L202.4,227.2 L202.9,227.3 L203.4,227.5 L203.9,227.6 L204.4,227.8 L204.9,227.9 L205.4,228.0 L205.9,228.2 L206.4,228.3 L206.9,228.4 L207.4,228.6 L207.9,228.7 L208.4,228.8 L208.9,228.9 L209.4,229.1 L209.9,229.2 L210.4,229.3 L210.9,229.5 L211.4,229.6 L211.9,229.7 L212.4,229.8 L212.9,229.9 L213.4,230.1 L213.9,230.2 L214.4,230.3 L214.9,230.4 L215.4,230.5 L215.9,230.6 L216.4,230.8 L216.9,230.9 L217.4,231.0 L217.9,231.1 L218.4,231.2 L218.9,231.3 L219.4,231.4 L219.9,231.5 L220.4,231.6 L220.9,231.8 L221.4,231.9 L221.9,232.0 L222.4,232.1 L222.9,232.2 L223.4,232.3 L223.9,232.4 L224.4,232.5 L224.9,232.6 L225.4,232.7 L225.9,232.8 L226.4,232.9 L226.9,233.0 L227.4,233.1 L227.9,233.2 L228.4,233.3 L228.9,233.4 L229.4,233.5 L229.9,233.5 L230.4,233.6 L230.9,233.7 L231.4,233.8 L231.9,233.9 L232.4,234.0 L232.9,234.1 L233.4,234.2 L233.9,234.3 L234.4,234.4 L234.9,234.4 L235.4,234.5 L235.9,234.6 L236.4,234.7 L236.9,234.8 L237.4,234.9 L237.9,235.0 L238.4,235.0 L238.9,235.1 L239.4,235.2 L239.9,235.3 L240.4,235.4 L240.9,235.4 L241.4,235.5 L241.9,235.6 L242.4,235.7 L242.9,235.8 L243.4,235.8 L243.9,235.9 L244.4,236.0 L244.9,236.1 L245.4,236.1 L245.9,236.2 L246.4,236.3 L247.0,236.4 L247.5,236.4 L248.0,236.5 L248.5,236.6 L249.0,236.6 L249.5,236.7 L250.0,236.8 L250.5,236.8 L251.0,236.9 L251.5,237.0 L252.0,237.0 L252.5,237.1 L253.0,237.2 L253.5,237.2 L254.0,237.3 L254.5,237.4 L255.0,237.4 L255.5,237.5 L256.0,237.5 L256.5,237.6 L257.0,237.7 L257.5,237.7 L258.0,237.8 L258.5,237.8 L259.0,237.9 L259.5,237.9 L260.0,238.0 L260.5,238.0 L261.0,238.1 L261.5,238.1 L262.0,238.2 L262.5,238.2 L263.0,238.3 L263.5,238.3 L264.0,238.4 L264.5,238.4 L265.0,238.5 L265.5,238.5 L266.0,238.6 L266.5,238.6 L267.0,238.6 L267.5,238.7 L268.0,238.7 L268.5,238.8 L269.0,238.8 L269.5,238.8 L270.0,238.9 L270.5,238.9 L271.0,238.9 L271.5,239.0 L272.0,239.0 L272.5,239.0 L273.0,239.1 L273.5,239.1 L274.0,239.1 L274.5,239.2 L275.0,239.2 L275.5,239.2 L276.0,239.3 L276.5,239.3 L277.0,239.3 L277.5,239.3 L278.0,239.4 L278.5,239.4 L279.0,239.4 L279.5,239.4 L280.0,239.4 L280.5,239.5 L281.0,239.5 L281.5,239.5 L282.0,239.5 L282.5,239.5 L283.0,239.6 L283.5,239.6 L284.0,239.6 L284.5,239.6 L285.0,239.6 L285.5,239.6 L286.0,239.6 L286.5,239.6 L287.0,239.7 L287.5,239.7 L288.0,239.7 L288.5,239.7 L289.0,239.7 L289.5,239.7 L290.0,239.7 L290.5,239.7 L291.0,239.7 L291.5,239.7 L292.0,239.7 L292.5,239.7 L293.0,239.7 L293.5,239.7 L294.0,239.7 L294.5,239.7 L295.0,239.7 L295.5,239.7 L296.0,239.6 L296.5,239.6 L297.0,239.6 L297.5,239.6 L298.0,239.6 L298.5,239.6 L299.0,239.6 L299.5,239.5 L300.0,239.5 L300.5,239.5 L301.0,239.5 L301.5,239.5 L302.0,239.5 L302.5,239.4 L303.0,239.4 L303.5,239.4 L304.0,239.4 L304.5,239.3 L305.0,239.3 L305.5,239.3 L306.0,239.2 L306.5,239.2 L307.0,239.2 L307.5,239.2 L308.0,239.1 L308.5,239.1 L309.0,239.1 L309.5,239.0 L310.0,239.0 L310.5,239.0 L311.0,238.9 L311.5,238.9 L312.0,238.8 L312.5,238.8 L313.0,238.8 L313.5,238.7 L314.0,238.7 L314.5,238.6 L315.0,238.6 L315.5,238.6 L316.0,238.5 L316.5,238.5 L317.0,238.4 L317.5,238.4 L318.0,238.3 L318.5,238.3 L319.0,238.2 L319.5,238.2 L320.0,238.1 L320.5,238.1 L321.0,238.0 L321.5,238.0 L322.0,237.9 L322.5,237.8 L323.0,237.8 L323.5,237.7 L324.0,237.7 L324.5,237.6 L325.0,237.5 L325.5,237.5 L326.0,237.4 L326.5,237.4 L327.0,237.3 L327.5,237.2 L328.0,237.2 L328.5,237.1 L329.0,237.0 L329.5,237.0 L330.0,236.9 L330.5,236.8 L331.0,236.7 L331.5,236.7 L332.0,236.6 L332.5,236.5 L333.0,236.5 L333.5,236.4 L334.0,236.3 L334.5,236.2 L335.0,236.1 L335.5,236.1 L336.0,236.0 L336.5,235.9 L337.0,235.8 L337.5,235.7 L338.0,235.7 L338.5,235.6 L339.0,235.5 L339.5,235.4 L340.0,235.3 L340.5,235.2 L341.0,235.1 L341.5,235.1 L342.0,235.0 L342.5,234.9 L343.0,234.8 L343.5,234.7 L344.0,234.6 L344.5,234.5 L345.0,234.4 L345.5,234.3 L346.0,234.2 L346.5,234.1 L347.0,234.0 L347.5,233.9 L348.0,233.8 L348.5,233.7 L349.0,233.6 L349.5,233.5 L350.0,233.4 L350.5,233.3 L351.0,233.2 L351.5,233.0 L352.0,232.9 L352.5,232.8 L353.0,232.7 L353.5,232.6 L354.0,232.5 L354.5,232.4 L355.0,232.2 L355.5,232.1 L356.0,232.0 L356.5,231.9 L357.0,231.8 L357.5,231.6 L358.0,231.5 L358.5,231.4 L359.0,231.3 L359.5,231.2 L360.0,231.0 L360.5,230.9 L361.0,230.8 L361.5,230.6 L362.0,230.5 L362.5,230.4 L363.0,230.3 L363.5,230.1 L364.0,230.0 L364.5,229.9 L365.0,229.7 L365.5,229.6 L366.0,229.5 L366.5,229.3 L367.0,229.2 L367.5,229.0 L368.0,228.9 L368.5,228.8 L369.0,228.6 L369.5,228.5 L370.0,228.4 L370.5,228.2 L371.0,228.1 L371.5,227.9 L372.0,227.8 L372.5,227.6 L373.0,227.5 L373.5,227.3 L374.0,227.2 L374.5,227.1 L375.0,226.9 L375.5,226.8 L376.0,226.6 L376.5,226.5 L377.0,226.3 L377.5,226.2 L378.0,226.0 L378.5,225.9 L379.0,225.7 L379.5,225.6 L380.0,225.4 L380.5,225.2 L381.0,225.1 L381.5,224.9 L382.0,224.8 L382.5,224.6 L383.0,224.5 L383.5,224.3 L384.0,224.2 L384.5,224.0 L385.0,223.8 L385.5,223.7 L386.0,223.5 L386.5,223.4 L387.0,223.2 L387.5,223.0 L388.0,222.9 L388.5,222.7 L389.0,222.5 L389.5,222.4 L390.0,222.2 L390.5,222.0 L391.0,221.9 L391.5,221.7 L392.0,221.5 L392.5,221.4 L393.0,221.2 L393.5,221.0 L394.0,220.8 L394.5,220.7 L395.0,220.5 L395.5,220.3 L396.0,220.1 L396.5,220.0 L397.0,219.8 L397.5,219.6 L398.0,219.4 L398.5,219.3 L399.0,219.1 L399.5,218.9 L400.0,218.7 L400.5,218.5 L401.0,218.3 L401.5,218.2 L402.0,218.0 L402.5,217.8 L403.0,217.6 L403.5,217.4 L404.0,217.2 L404.5,217.0 L405.0,216.9 L405.5,216.7 L406.0,216.5 L406.5,216.3 L407.0,216.1 L407.5,215.9 L408.0,215.7 L408.5,215.5 L409.0,215.3 L409.5,215.1 L410.0,214.9 L410.5,214.7 L411.0,214.5 L411.5,214.3 L412.0,214.1 L412.5,213.9 L413.0,213.7 L413.5,213.5 L414.0,213.3 L414.5,213.1 L415.0,212.9 L415.5,212.7 L416.0,212.5 L416.5,212.3 L417.0,212.1 L417.5,211.9 L418.0,211.7 L418.5,211.5 L419.0,211.3 L419.5,211.1 L420.0,210.9 L420.5,210.6 L421.0,210.4 L421.5,210.2 L422.0,210.0 L422.5,209.8 L423.0,209.6 L423.5,209.4 L424.0,209.2 L424.5,209.0 L425.0,208.7 L425.5,208.5 L426.0,208.3 L426.5,208.1 L427.0,207.9 L427.5,207.7 L428.0,207.4 L428.5,207.2 L429.0,207.0 L429.5,206.8 L430.0,206.5 L430.5,206.3 L431.0,206.1 L431.5,205.9 L432.0,205.6 L432.5,205.4 L433.0,205.2 L433.5,204.9 L434.0,204.7 L434.5,204.5 L435.0,204.2 L435.5,204.0 L436.0,203.8 L436.5,203.5 L437.0,203.3 L437.5,203.0 L438.0,202.8 L438.5,202.6 L439.0,202.3 L439.5,202.1 L440.0,201.8 L440.5,201.6 L441.0,201.3 L441.5,201.1 L442.0,200.8 L442.5,200.6 L443.0,200.3 L443.5,200.1 L444.0,199.8 L444.5,199.6 L445.0,199.3 L445.5,199.1 L446.0,198.8 L446.5,198.6 L447.0,198.3 L447.5,198.1 L448.0,197.8 L448.5,197.5 L449.0,197.3 L449.5,197.0 L450.0,196.8 L450.5,196.5 L451.0,196.2 L451.5,196.0 L452.0,195.7 L452.5,195.4 L453.0,195.2 L453.5,194.9 L454.0,194.6 L454.5,194.4 L455.0,194.1 L455.5,193.8 L456.0,193.6 L456.5,193.3 L457.0,193.0" stroke="#ff0000" stroke-width="1.25"/>
<path d="M36.4,427.1 L36.9,427.2 L37.4,427.2 L37.9,427.1 L38.4,427.1 L38.9,427.1 L39.4,427.3 L39.9,427.4 L40.4,427.3 L40.9,427.2 L41.4,427.2 L41.9,427.2 L42.4,427.2 L42.9,427.1 L43.4,427.0 L43.9,427.0 L44.4,427.2 L44.9,427.3 L45.4,427.4 L45.9,427.4 L46.4,427.4 L46.9,427.3 L47.4,427.5 L47.9,427.6 L48.4,427.6 L48.9,427.5 L49.4,427.5 L49.9,427.5 L50.4,427.4 L50.9,427.4 L51.4,427.4 L51.9,427.4 L52.4,427.4 L52.9,427.4 L53.4,427.3 L53.9,427.3 L54.4,427.3 L54.9,427.3 L55.4,427.3 L55.9,427.4 L56.4,427.4 L56.9,427.3 L57.4,427.3 L57.9,427.3 L58.4,427.3 L58.9,427.4 L59.4,427.7 L59.9,427.8 L60.4,427.8 L60.9,427.7 L61.4,427.5 L61.9,427.5 L62.4,427.5 L62.9,427.5 L63.4,427.4 L63.9,427.5 L64.4,427.5 L64.9,427.6 L65.4,427.5 L65.9,427.4 L66.4,427.4 L66.9,427.5 L67.4,427.5 L67.9,427.3 L68.4,427.2 L68.9,427.2 L69.4,427.3 L69.9,427.4 L70.4,427.5 L70.9,427.4 L71.4,427.4 L71.9,427.3 L72.4,427.3 L72.9,427.3 L73.4,427.4 L73.9,427.3 L74.4,427.3 L74.9,427.2 L75.4,427.3 L75.9,427.3 L76.4,427.2 L76.9,427.2 L77.4,427.3 L77.9,427.4 L78.4,427.5 L78.9,427.4 L79.4,427.4 L79.9,427.4 L80.4,427.3 L80.9,427.3 L81.4,427.2 L81.9,427.2 L82.4,427.2 L82.9,427.2 L83.4,427.2 L83.9,427.3 L84.4,427.3 L84.9,427.4 L85.4,427.5 L85.9,427.6 L86.4,427.6 L86.9,427.6 L87.4,427.6 L87.9,427.4 L88.4,427.5 L88.9,427.5 L89.4,427.6 L89.9,427.4 L90.4,427.2 L90.9,427.2 L91.4,427.3 L91.9,427.5 L92.4,427.5 L92.9,427.4 L93.4,427.4 L93.9,427.4 L94.4,427.3 L94.9,427.3 L95.4,427.1 L95.9,427.2 L96.4,427.2 L96.9,427.3 L97.4,427.3 L97.9,427.2 L98.4,427.2 L98.9,427.1 L99.4,427.0 L99.9,427.0 L100.4,427.2 L100.9,427.4 L101.4,427.5 L101.9,427.5 L102.4,427.4 L102.9,427.4 L103.4,427.4 L103.9,427.4 L104.4,427.4 L104.9,427.3 L105.4,427.3 L105.9,427.2 L106.4,427.3 L106.9,427.3 L107.4,427.4 L107.9,427.3 L108.4,427.3 L108.9,427.3 L109.4,427.3 L109.9,427.4 L110.4,427.5 L110.9,427.6 L111.4,427.7 L111.9,427.7 L112.4,427.6 L112.9,427.4 L113.4,427.4 L113.9,427.4 L114.4,427.4 L114.9,427.3 L115.4,427.2 L115.9,427.1 L116.4,427.2 L116.9,427.2 L117.4,427.4 L117.9,427.5 L118.4,427.6 L118.9,427.7 L119.4,427.7 L119.9,427.7 L120.4,427.6 L120.9,427.6 L121.4,427.7 L121.9,427.9 L122.4,428.1 L122.9,428.0 L123.4,428.0 L123.9,427.8 L124.4,427.8 L124.9,427.8 L125.4,427.8 L125.9,427.9 L126.4,427.8 L126.9,427.6 L127.4,427.2 L127.9,426.8 L128.4,426.6 L128.9,426.3 L129.4,426.1 L129.9,425.6 L130.4,425.1 L130.9,424.5 L131.4,424.0 L131.9,423.4 L132.4,422.8 L132.9,421.9 L133.4,421.1 L133.9,420.3 L134.4,419.7 L134.9,418.9 L135.4,418.0 L135.9,416.9 L136.4,415.9 L136.9,415.0 L137.4,414.1 L137.9,413.2 L138.4,412.6 L138.9,412.1 L139.4,411.6 L139.9,411.1 L140.4,410.7 L140.9,410.6 L141.4,410.8 L141.9,411.2 L142.4,411.8 L142.9,412.4 L143.4,413.2 L143.9,413.8 L144.4,414.4 L144.9,414.9 L145.4,415.5 L145.9,416.0 L146.4,416.5 L146.9,417.0 L147.4,417.6 L147.9,418.1 L148.4,418.5 L148.9,418.8 L149.4,419.1 L149.9,419.4 L150.4,419.8 L150.9,420.1 L151.4,420.4 L151.9,420.6 L152.4,420.8 L152.9,420.8 L153.4,421.0 L153.9,421.2 L154.4,421.4 L154.9,421.5 L155.4,421.6 L155.9,421.7 L156.4,421.9 L156.9,422.0 L157.4,422.2 L157.9,422.3 L158.4,422.4 L158.9,422.3 L159.4,422.4 L159.9,422.6 L160.4,422.6 L160.9,422.5 L161.4,422.4 L161.9,422.3 L162.4,422.4 L162.9,422.5 L163.4,422.5 L163.9,422.5 L164.4,422.5 L164.9,422.4 L165.4,422.5 L165.9,422.6 L166.4,422.7 L166.9,422.9 L167.4,422.9 L167.9,422.9 L168.4,422.9 L168.9,422.8 L169.4,422.8 L169.9,422.8 L170.4,422.8 L170.9,422.8 L171.4,422.9 L171.9,422.8 L172.4,422.7 L172.9,422.6 L173.4,422.6 L173.9,422.7 L174.4,422.8 L174.9,422.7 L175.4,422.6 L175.9,422.4 L176.4,422.4 L176.9,422.5 L177.4,422.7 L177.9,422.8 L178.4,422.8 L178.9,422.7 L179.4,422.8 L179.9,422.9 L180.4,423.0 L180.9,423.1 L181.4,423.2 L181.9,423.3 L182.4,423.2 L182.9,423.1 L183.4,423.0 L183.9,422.9 L184.4,422.8 L184.9,422.7 L185.4,422.7 L185.9,422.8 L186.4,422.9 L186.9,423.0 L187.4,423.1 L187.9,423.0 L188.4,423.0 L188.9,423.0 L189.4,423.1 L189.9,423.1 L190.4,423.0 L190.9,422.8 L191.4,422.8 L191.9,422.9 L192.4,423.0 L192.9,423.1 L193.4,423.0 L193.9,423.1 L194.4,423.1 L194.9,423.2 L195.4,423.1 L195.9,423.0 L196.4,422.9 L196.9,423.0 L197.4,423.1 L197.9,423.0 L198.4,423.0 L198.9,423.0 L199.4,423.0 L199.9,422.9 L200.4,422.9 L200.9,422.8 L201.4,422.7 L201.9,422.5 L202.4,422.5 L202.9,422.4 L203.4,422.4 L203.9,422.4 L204.4,422.3 L204.9,422.1 L205.4,421.9 L205.9,421.8 L206.4,421.6 L206.9,421.4 L207.4,421.1 L207.9,420.8 L208.4,420.4 L208.9,420.1 L209.4,419.7 L209.9,419.4 L210.4,418.9 L210.9,418.5 L211.4,418.0 L211.9,417.7 L212.4,417.3 L212.9,416.9 L213.4,416.2 L213.9,415.4 L214.4,414.6 L214.9,413.8 L215.4,413.2 L215.9,412.7 L216.4,412.2 L216.9,411.6 L217.4,410.9 L217.9,410.3 L218.4,409.9 L218.9,409.7 L219.4,409.9 L219.9,410.3 L220.4,410.8 L220.9,411.5 L221.4,412.7 L221.9,413.9 L222.4,414.8 L222.9,415.8 L223.4,416.8 L223.9,417.9 L224.4,419.0 L224.9,419.8 L225.4,420.3 L225.9,420.7 L226.4,420.9 L226.9,421.0 L227.4,421.1 L227.9,421.2 L228.4,421.5 L228.9,421.7 L229.4,421.9 L229.9,422.0 L230.4,422.1 L230.9,422.2 L231.4,422.4 L231.9,422.4 L232.4,422.5 L232.9,422.4 L233.4,422.3 L233.9,422.1 L234.4,422.1 L234.9,422.2 L235.4,422.4 L235.9,422.5 L236.4,422.6 L236.9,422.6 L237.4,422.6 L237.9,422.6 L238.4,422.6 L238.9,422.5 L239.4,422.5 L239.9,422.6 L240.4,422.6 L240.9,422.6 L241.4,422.5 L241.9,422.5 L242.4,422.6 L242.9,422.6 L243.4,422.6 L243.9,422.7 L244.4,422.8 L244.9,422.9 L245.4,422.8 L245.9,422.8 L246.4,422.7 L247.0,422.7 L247.5,422.8 L248.0,422.9 L248.5,422.8 L249.0,422.7 L249.5,422.6 L250.0,422.6 L250.5,422.7 L251.0,422.8 L251.5,422.9 L252.0,422.9 L252.5,422.9 L253.0,422.8 L253.5,422.6 L254.0,422.4 L254.5,422.3 L255.0,422.4 L255.5,422.6 L256.0,422.7 L256.5,422.8 L257.0,422.9 L257.5,422.9 L258.0,422.8 L258.5,422.7 L259.0,422.6 L259.5,422.6 L260.0,422.6 L260.5,422.6 L261.0,422.6 L261.5,422.6 L262.0,422.5 L262.5,422.5 L263.0,422.5 L263.5,422.7 L264.0,422.7 L264.5,422.7 L265.0,422.7 L265.5,422.6 L266.0,422.7 L266.5,422.7 L267.0,422.7 L267.5,422.6 L268.0,422.5 L268.5,422.6 L269.0,422.8 L269.5,423.0 L270.0,423.0 L270.5,422.9 L271.0,422.9 L271.5,423.1 L272.0,423.1 L272.5,423.0 L273.0,422.9 L273.5,422.9 L274.0,423.2 L274.5,423.4 L275.0,423.4 L275.5,423.3 L276.0,423.1 L276.5,423.0 L277.0,423.0 L277.5,422.9 L278.0,423.0 L278.5,423.0 L279.0,423.1 L279.5,423.0 L280.0,422.9 L280.5,422.7 L281.0,422.5 L281.5,422.4 L282.0,422.3 L282.5,422.2 L283.0,422.0 L283.5,421.9 L284.0,421.8 L284.5,421.6 L285.0,421.6 L285.5,421.7 L286.0,421.6 L286.5,421.5 L287.0,421.1 L287.5,420.9 L288.0,420.6 L288.5,420.5 L289.0,420.2 L289.5,419.9 L290.0,419.4 L290.5,418.9 L291.0,418.5 L291.5,418.2 L292.0,417.7 L292.5,417.1 L293.0,416.5 L293.5,415.8 L294.0,415.1 L294.5,414.3 L295.0,413.5 L295.5,412.7 L296.0,411.9 L296.5,411.1 L297.0,410.3 L297.5,409.6 L298.0,409.1 L298.5,408.9 L299.0,408.7 L299.5,408.8 L300.0,408.9 L300.5,409.4 L301.0,409.9 L301.5,410.8 L302.0,411.8 L302.5,412.8 L303.0,413.6 L303.5,414.3 L304.0,415.1 L304.5,416.0 L305.0,417.0 L305.5,418.0 L306.0,418.7 L306.5,419.2 L307.0,419.4 L307.5,419.8 L308.0,420.1 L308.5,420.3 L309.0,420.3 L309.5,420.3 L310.0,420.3 L310.5,420.4 L311.0,420.6 L311.5,420.9 L312.0,421.1 L312.5,421.4 L313.0,421.6 L313.5,421.9 L314.0,422.0 L314.5,422.0 L315.0,422.0 L315.5,421.9 L316.0,422.0 L316.5,422.0 L317.0,422.0 L317.5,422.0 L318.0,422.1 L318.5,422.3 L319.0,422.4 L319.5,422.4 L320.0,422.4 L320.5,422.3 L321.0,422.3 L321.5,422.6 L322.0,422.9 L322.5,423.1 L323.0,423.0 L323.5,422.9 L324.0,422.9 L324.5,423.0 L325.0,423.1 L325.5,423.2 L326.0,423.2 L326.5,423.2 L327.0,423.1 L327.5,423.0 L328.0,423.0 L328.5,423.1 L329.0,423.1 L329.5,423.2 L330.0,423.4 L330.5,423.5 L331.0,423.5 L331.5,423.4 L332.0,423.5 L332.5,423.6 L333.0,423.9 L333.5,424.1 L334.0,424.1 L334.5,424.0 L335.0,424.0 L335.5,424.0 L336.0,424.0 L336.5,423.9 L337.0,424.1 L337.5,424.3 L338.0,424.4 L338.5,424.4 L339.0,424.3 L339.5,424.3 L340.0,424.3 L340.5,424.3 L341.0,424.4 L341.5,424.6 L342.0,424.8 L342.5,425.0 L343.0,425.0 L343.5,425.1 L344.0,425.0 L344.5,424.9 L345.0,424.8 L345.5,425.0 L346.0,425.2 L346.5,425.3 L347.0,425.4 L347.5,425.4 L348.0,425.4 L348.5,425.5 L349.0,425.6 L349.5,425.7 L350.0,425.8 L350.5,425.9 L351.0,425.8 L351.5,425.8 L352.0,425.9 L352.5,426.1 L353.0,426.3 L353.5,426.4 L354.0,426.3 L354.5,426.1 L355.0,425.9 L355.5,425.8 L356.0,425.8 L356.5,425.8 L357.0,425.9 L357.5,426.0 L358.0,426.1 L358.5,426.0 L359.0,426.0 L359.5,426.1 L360.0,426.3 L360.5,426.4 L361.0,426.5 L361.5,426.4 L362.0,426.4 L362.5,426.3 L363.0,426.2 L363.5,426.2 L364.0,426.0 L364.5,425.9 L365.0,425.7 L365.5,425.5 L366.0,425.2 L366.5,424.8 L367.0,424.2 L367.5,423.6 L368.0,422.8 L368.5,422.0 L369.0,421.2 L369.5,420.4 L370.0,419.5 L370.5,418.7 L371.0,417.8 L371.5,416.9 L372.0,415.9 L372.5,414.7 L373.0,413.4 L373.5,412.2 L374.0,411.0 L374.5,409.8 L375.0,408.7 L375.5,407.6 L376.0,406.4 L376.5,405.1 L377.0,403.9 L377.5,402.8 L378.0,401.8 L378.5,400.8 L379.0,400.1 L379.5,399.6 L380.0,399.4 L380.5,399.5 L381.0,399.8 L381.5,400.3 L382.0,401.3 L382.5,402.5 L383.0,403.5 L383.5,404.6 L384.0,405.7 L384.5,406.8 L385.0,407.9 L385.5,408.8 L386.0,409.9 L386.5,410.8 L387.0,411.7 L387.5,412.5 L388.0,413.2 L388.5,413.8 L389.0,414.6 L389.5,415.2 L390.0,415.7 L390.5,416.0 L391.0,416.4 L391.5,416.8 L392.0,417.3 L392.5,417.7 L393.0,418.0 L393.5,418.2 L394.0,418.5 L394.5,418.8 L395.0,419.1 L395.5,419.2 L396.0,419.3 L396.5,419.5 L397.0,419.8 L397.5,420.1 L398.0,420.2 L398.5,420.2 L399.0,420.3 L399.5,420.4 L400.0,420.6 L400.5,420.9 L401.0,421.1 L401.5,421.4 L402.0,421.6 L402.5,421.7 L403.0,421.9 L403.5,422.0 L404.0,422.1 L404.5,422.1 L405.0,422.1 L405.5,422.1 L406.0,422.2 L406.5,422.2 L407.0,422.2 L407.5,422.2 L408.0,422.4 L408.5,422.5 L409.0,422.5 L409.5,422.6 L410.0,422.7 L410.5,422.9 L411.0,423.0 L411.5,423.0 L412.0,423.1 L412.5,423.1 L413.0,423.3 L413.5,423.4 L414.0,423.4 L414.5,423.5 L415.0,423.5 L415.5,423.6 L416.0,423.6 L416.5,423.6 L417.0,423.6 L417.5,423.5 L418.0,423.5 L418.5,423.5 L419.0,423.6 L419.5,423.7 L420.0,423.8 L420.5,423.9 L421.0,424.0 L421.5,424.1 L422.0,424.1 L422.5,424.2 L423.0,424.3 L423.5,424.4 L424.0,424.4 L424.5,424.3 L425.0,424.2 L425.5,424.3 L426.0,424.4 L426.5,424.4 L427.0,424.4 L427.5,424.5 L428.0,424.5 L428.5,424.5 L429.0,424.4 L429.5,424.3 L430.0,424.4 L430.5,424.5 L431.0,424.6 L431.5,424.5 L432.0,424.5 L432.5,424.4 L433.0,424.5 L433.5,424.7 L434.0,424.7 L434.5,424.9 L435.0,424.8 L435.5,424.8 L436.0,424.7 L436.5,424.6 L437.0,424.4 L437.5,424.4 L438.0,424.4 L438.5,424.4 L439.0,424.4 L439.5,424.4 L440.0,424.5 L440.5,424.5 L441.0,424.5 L441.5,424.5 L442.0,424.5 L442.5,424.4 L443.0,424.4 L443.5,424.5 L444.0,424.5 L444.5,424.5 L445.0,424.4 L445.5,424.5 L446.0,424.5 L446.5,424.7 L447.0,424.7 L447.5,424.8 L448.0,424.7 L448.5,424.7 L449.0,424.5 L449.5,424.3 L450.0,424.2 L450.5,424.2 L451.0,424.4 L451.5,424.4 L452.0,424.4 L452.5,424.4 L453.0,424.3 L453.5,424.4 L454.0,424.3 L454.5,424.4 L455.0,424.3 L455.5,424.3 L456.0,424.3 L456.5,424.4 L457.0,424.5" stroke="#808000" stroke-width="2.6"/>
<path d="M36.4,307.6 L36.9,308.0 L37.4,308.4 L37.9,308.7 L38.4,309.1 L38.9,309.4 L39.4,309.9 L39.9,310.4 L40.4,310.7 L40.9,311.0 L41.4,311.3 L41.9,311.7 L42.4,312.0 L42.9,312.2 L43.4,312.5 L43.9,312.9 L44.4,313.4 L44.9,313.9 L45.4,314.4 L45.9,314.7 L46.4,315.0 L46.9,315.3 L47.4,315.8 L47.9,316.3 L48.4,316.6 L48.9,316.9 L49.4,317.2 L49.9,317.6 L50.4,317.8 L50.9,318.2 L51.4,318.5 L51.9,318.9 L52.4,319.2 L52.9,319.5 L53.4,319.9 L53.9,320.2 L54.4,320.5 L54.9,320.8 L55.4,321.2 L55.9,321.6 L56.4,321.9 L56.9,322.3 L57.4,322.6 L57.9,322.9 L58.4,323.3 L58.9,323.7 L59.4,324.3 L59.9,324.8 L60.4,325.1 L60.9,325.3 L61.4,325.5 L61.9,325.8 L62.4,326.1 L62.9,326.5 L63.4,326.7 L63.9,327.1 L64.4,327.5 L64.9,327.8 L65.4,328.1 L65.9,328.3 L66.4,328.7 L66.9,329.0 L67.4,329.4 L67.9,329.6 L68.4,329.8 L68.9,330.1 L69.4,330.5 L69.9,331.0 L70.4,331.3 L70.9,331.6 L71.4,331.9 L71.9,332.1 L72.4,332.4 L72.9,332.7 L73.4,333.1 L73.9,333.4 L74.4,333.7 L74.9,334.0 L75.4,334.3 L75.9,334.6 L76.4,334.9 L76.9,335.2 L77.4,335.6 L77.9,336.0 L78.4,336.4 L78.9,336.7 L79.4,336.9 L79.9,337.2 L80.4,337.5 L80.9,337.8 L81.4,338.0 L81.9,338.3 L82.4,338.6 L82.9,338.9 L83.4,339.2 L83.9,339.6 L84.4,339.9 L84.9,340.3 L85.4,340.7 L85.9,341.1 L86.4,341.4 L86.9,341.7 L87.4,342.0 L87.9,342.2 L88.4,342.5 L88.9,342.8 L89.4,343.2 L89.9,343.3 L90.4,343.4 L90.9,343.7 L91.4,344.1 L91.9,344.5 L92.4,344.8 L92.9,345.1 L93.4,345.4 L93.9,345.7 L94.4,345.9 L94.9,346.1 L95.4,346.2 L95.9,346.6 L96.4,346.9 L96.9,347.3 L97.4,347.5 L97.9,347.8 L98.4,348.0 L98.9,348.2 L99.4,348.4 L99.9,348.7 L100.4,349.2 L100.9,349.6 L101.4,350.0 L101.9,350.2 L102.4,350.5 L102.9,350.7 L103.4,351.0 L103.9,351.3 L104.4,351.6 L104.9,351.8 L105.4,352.0 L105.9,352.2 L106.4,352.5 L106.9,352.8 L107.4,353.1 L107.9,353.4 L108.4,353.7 L108.9,353.9 L109.4,354.2 L109.9,354.5 L110.4,354.9 L110.9,355.3 L111.4,355.6 L111.9,355.9 L112.4,356.0 L112.9,356.1 L113.4,356.3 L113.9,356.6 L114.4,356.9 L114.9,357.1 L115.4,357.2 L115.9,357.4 L116.4,357.7 L116.9,358.0 L117.4,358.4 L117.9,358.7 L118.4,359.1 L118.9,359.5 L119.4,359.7 L119.9,359.9 L120.4,360.1 L120.9,360.3 L121.4,360.7 L121.9,361.1 L122.4,361.5 L122.9,361.7 L123.4,361.9 L123.9,362.0 L124.4,362.3 L124.9,362.5 L125.4,362.8 L125.9,363.0 L126.4,363.2 L126.9,363.2 L127.4,363.1 L127.9,362.9 L128.4,362.9 L128.9,362.9 L129.4,362.9 L129.9,362.7 L130.4,362.4 L130.9,362.0 L131.4,361.8 L131.9,361.4 L132.4,361.0 L132.9,360.3 L133.4,359.7 L133.9,359.2 L134.4,358.8 L134.9,358.3 L135.4,357.5 L135.9,356.7 L136.4,355.9 L136.9,355.2 L137.4,354.5 L137.9,353.9 L138.4,353.5 L138.9,353.2 L139.4,352.9 L139.9,352.6 L140.4,352.4 L140.9,352.5 L141.4,353.0 L141.9,353.6 L142.4,354.4 L142.9,355.2 L143.4,356.2 L143.9,357.1 L144.4,357.9 L144.9,358.6 L145.4,359.4 L145.9,360.1 L146.4,360.8 L146.9,361.5 L147.4,362.3 L147.9,363.0 L148.4,363.6 L148.9,364.1 L149.4,364.6 L149.9,365.1 L150.4,365.8 L150.9,366.3 L151.4,366.8 L151.9,367.2 L152.4,367.5 L152.9,367.8 L153.4,368.2 L153.9,368.5 L154.4,369.0 L154.9,369.3 L155.4,369.5 L155.9,369.8 L156.4,370.2 L156.9,370.5 L157.4,370.9 L157.9,371.2 L158.4,371.4 L158.9,371.6 L159.4,371.9 L159.9,372.2 L160.4,372.4 L160.9,372.5 L161.4,372.6 L161.9,372.7 L162.4,373.0 L162.9,373.2 L163.4,373.5 L163.9,373.6 L164.4,373.8 L164.9,373.9 L165.4,374.1 L165.9,374.4 L166.4,374.7 L166.9,375.0 L167.4,375.2 L167.9,375.4 L168.4,375.5 L168.9,375.7 L169.4,375.8 L169.9,376.0 L170.4,376.2 L170.9,376.3 L171.4,376.6 L171.9,376.6 L172.4,376.7 L172.9,376.8 L173.4,377.0 L173.9,377.3 L174.4,377.4 L174.9,377.6 L175.4,377.6 L175.9,377.6 L176.4,377.7 L176.9,377.9 L177.4,378.3 L177.9,378.6 L178.4,378.8 L178.9,378.8 L179.4,379.0 L179.9,379.3 L180.4,379.5 L180.9,379.8 L181.4,380.0 L181.9,380.3 L182.4,380.3 L182.9,380.4 L183.4,380.4 L183.9,380.4 L184.4,380.5 L184.9,380.6 L185.4,380.7 L185.9,380.9 L186.4,381.2 L186.9,381.5 L187.4,381.7 L187.9,381.8 L188.4,381.9 L188.9,382.0 L189.4,382.2 L189.9,382.4 L190.4,382.4 L190.9,382.4 L191.4,382.4 L191.9,382.7 L192.4,382.9 L192.9,383.1 L193.4,383.2 L193.9,383.4 L194.4,383.5 L194.9,383.7 L195.4,383.8 L195.9,383.8 L196.4,383.9 L196.9,384.0 L197.4,384.2 L197.9,384.3 L198.4,384.5 L198.9,384.5 L199.4,384.7 L199.9,384.7 L200.4,384.8 L200.9,384.8 L201.4,384.8 L201.9,384.7 L202.4,384.8 L202.9,384.8 L203.4,385.0 L203.9,385.1 L204.4,385.1 L204.9,385.0 L205.4,384.9 L205.9,384.9 L206.4,384.8 L206.9,384.7 L207.4,384.5 L207.9,384.3 L208.4,384.0 L208.9,383.8 L209.4,383.5 L209.9,383.3 L210.4,382.9 L210.9,382.6 L211.4,382.2 L211.9,382.0 L212.4,381.7 L212.9,381.3 L213.4,380.8 L213.9,380.1 L214.4,379.4 L214.9,378.7 L215.4,378.2 L215.9,377.8 L216.4,377.3 L216.9,376.8 L217.4,376.2 L217.9,375.7 L218.4,375.3 L218.9,375.2 L219.4,375.5 L219.9,376.0 L220.4,376.6 L220.9,377.4 L221.4,378.6 L221.9,379.9 L222.4,380.9 L222.9,381.9 L223.4,383.1 L223.9,384.2 L224.4,385.3 L224.9,386.2 L225.4,386.9 L225.9,387.3 L226.4,387.5 L226.9,387.7 L227.4,387.8 L227.9,388.1 L228.4,388.4 L228.9,388.7 L229.4,388.9 L229.9,389.1 L230.4,389.3 L230.9,389.5 L231.4,389.7 L231.9,389.8 L232.4,389.9 L232.9,389.9 L233.4,389.8 L233.9,389.7 L234.4,389.7 L234.9,389.9 L235.4,390.1 L235.9,390.3 L236.4,390.4 L236.9,390.5 L237.4,390.5 L237.9,390.6 L238.4,390.6 L238.9,390.6 L239.4,390.6 L239.9,390.8 L240.4,390.8 L240.9,390.8 L241.4,390.8 L241.9,390.9 L242.4,390.9 L242.9,391.0 L243.4,391.1 L243.9,391.2 L244.4,391.3 L244.9,391.5 L245.4,391.4 L245.9,391.4 L246.4,391.3 L247.0,391.4 L247.5,391.5 L248.0,391.6 L248.5,391.6 L249.0,391.5 L249.5,391.4 L250.0,391.4 L250.5,391.6 L251.0,391.7 L251.5,391.8 L252.0,391.9 L252.5,391.9 L253.0,391.8 L253.5,391.6 L254.0,391.4 L254.5,391.4 L255.0,391.5 L255.5,391.7 L256.0,391.8 L256.5,391.9 L257.0,392.0 L257.5,392.1 L258.0,392.0 L258.5,391.9 L259.0,391.8 L259.5,391.8 L260.0,391.8 L260.5,391.8 L261.0,391.8 L261.5,391.8 L262.0,391.7 L262.5,391.7 L263.0,391.7 L263.5,391.9 L264.0,392.0 L264.5,391.9 L265.0,391.9 L265.5,391.8 L266.0,391.9 L266.5,391.9 L267.0,391.9 L267.5,391.8 L268.0,391.7 L268.5,391.8 L269.0,392.0 L269.5,392.2 L270.0,392.1 L270.5,392.0 L271.0,392.0 L271.5,392.2 L272.0,392.2 L272.5,392.1 L273.0,391.9 L273.5,392.0 L274.0,392.2 L274.5,392.4 L275.0,392.4 L275.5,392.2 L276.0,392.1 L276.5,391.9 L277.0,391.9 L277.5,391.8 L278.0,391.8 L278.5,391.8 L279.0,391.9 L279.5,391.8 L280.0,391.6 L280.5,391.4 L281.0,391.2 L281.5,391.1 L282.0,390.9 L282.5,390.8 L283.0,390.6 L283.5,390.4 L284.0,390.2 L284.5,390.1 L285.0,390.0 L285.5,390.0 L286.0,389.9 L286.5,389.7 L287.0,389.4 L287.5,389.1 L288.0,388.8 L288.5,388.6 L289.0,388.3 L289.5,387.9 L290.0,387.4 L290.5,386.9 L291.0,386.4 L291.5,386.0 L292.0,385.5 L292.5,384.8 L293.0,384.1 L293.5,383.4 L294.0,382.7 L294.5,381.9 L295.0,381.0 L295.5,380.1 L296.0,379.2 L296.5,378.4 L297.0,377.6 L297.5,376.8 L298.0,376.2 L298.5,375.9 L299.0,375.7 L299.5,375.7 L300.0,375.8 L300.5,376.2 L301.0,376.6 L301.5,377.5 L302.0,378.4 L302.5,379.3 L303.0,380.1 L303.5,380.8 L304.0,381.5 L304.5,382.3 L305.0,383.2 L305.5,384.2 L306.0,384.8 L306.5,385.2 L307.0,385.4 L307.5,385.7 L308.0,386.0 L308.5,386.1 L309.0,386.0 L309.5,385.9 L310.0,385.9 L310.5,385.9 L311.0,386.0 L311.5,386.2 L312.0,386.4 L312.5,386.5 L313.0,386.7 L313.5,386.9 L314.0,386.9 L314.5,386.8 L315.0,386.7 L315.5,386.6 L316.0,386.6 L316.5,386.5 L317.0,386.4 L317.5,386.3 L318.0,386.3 L318.5,386.4 L319.0,386.5 L319.5,386.4 L320.0,386.2 L320.5,386.0 L321.0,386.0 L321.5,386.1 L322.0,386.3 L322.5,386.4 L323.0,386.3 L323.5,386.0 L324.0,386.0 L324.5,385.9 L325.0,385.9 L325.5,385.8 L326.0,385.8 L326.5,385.6 L327.0,385.4 L327.5,385.3 L328.0,385.1 L328.5,385.0 L329.0,384.9 L329.5,385.0 L330.0,384.9 L330.5,384.9 L331.0,384.8 L331.5,384.6 L332.0,384.5 L332.5,384.6 L333.0,384.7 L333.5,384.7 L334.0,384.7 L334.5,384.4 L335.0,384.3 L335.5,384.1 L336.0,384.0 L336.5,383.8 L337.0,383.8 L337.5,383.9 L338.0,383.8 L338.5,383.7 L339.0,383.4 L339.5,383.3 L340.0,383.1 L340.5,383.0 L341.0,383.0 L341.5,383.0 L342.0,383.1 L342.5,383.1 L343.0,383.0 L343.5,383.0 L344.0,382.7 L344.5,382.4 L345.0,382.2 L345.5,382.2 L346.0,382.3 L346.5,382.3 L347.0,382.2 L347.5,382.0 L348.0,381.9 L348.5,381.8 L349.0,381.7 L349.5,381.7 L350.0,381.7 L350.5,381.5 L351.0,381.3 L351.5,381.1 L352.0,381.1 L352.5,381.1 L353.0,381.1 L353.5,381.1 L354.0,380.8 L354.5,380.5 L355.0,380.1 L355.5,379.9 L356.0,379.7 L356.5,379.5 L357.0,379.5 L357.5,379.4 L358.0,379.3 L358.5,379.1 L359.0,378.9 L359.5,378.8 L360.0,378.9 L360.5,378.8 L361.0,378.7 L361.5,378.5 L362.0,378.3 L362.5,378.0 L363.0,377.8 L363.5,377.6 L364.0,377.2 L364.5,376.9 L365.0,376.6 L365.5,376.2 L366.0,375.7 L366.5,375.1 L367.0,374.4 L367.5,373.6 L368.0,372.6 L368.5,371.7 L369.0,370.7 L369.5,369.7 L370.0,368.6 L370.5,367.6 L371.0,366.5 L371.5,365.5 L372.0,364.3 L372.5,362.9 L373.0,361.5 L373.5,360.1 L374.0,358.7 L374.5,357.3 L375.0,356.0 L375.5,354.7 L376.0,353.3 L376.5,351.8 L377.0,350.5 L377.5,349.2 L378.0,348.0 L378.5,346.8 L379.0,345.9 L379.5,345.2 L380.0,344.8 L380.5,344.8 L381.0,344.8 L381.5,345.2 L382.0,345.9 L382.5,347.0 L383.0,347.8 L383.5,348.6 L384.0,349.5 L384.5,350.5 L385.0,351.3 L385.5,352.1 L386.0,352.9 L386.5,353.7 L387.0,354.4 L387.5,355.0 L388.0,355.4 L388.5,355.9 L389.0,356.4 L389.5,356.9 L390.0,357.2 L390.5,357.3 L391.0,357.4 L391.5,357.7 L392.0,358.0 L392.5,358.1 L393.0,358.2 L393.5,358.2 L394.0,358.3 L394.5,358.4 L395.0,358.5 L395.5,358.4 L396.0,358.3 L396.5,358.3 L397.0,358.4 L397.5,358.4 L398.0,358.3 L398.5,358.1 L399.0,357.9 L399.5,357.8 L400.0,357.8 L400.5,357.9 L401.0,357.9 L401.5,358.0 L402.0,357.9 L402.5,357.9 L403.0,357.8 L403.5,357.7 L404.0,357.5 L404.5,357.3 L405.0,357.1 L405.5,356.9 L406.0,356.7 L406.5,356.5 L407.0,356.3 L407.5,356.1 L408.0,356.0 L408.5,355.9 L409.0,355.7 L409.5,355.5 L410.0,355.5 L410.5,355.4 L411.0,355.3 L411.5,355.1 L412.0,354.9 L412.5,354.7 L413.0,354.7 L413.5,354.5 L414.0,354.3 L414.5,354.1 L415.0,354.0 L415.5,353.8 L416.0,353.6 L416.5,353.4 L417.0,353.1 L417.5,352.7 L418.0,352.5 L418.5,352.2 L419.0,352.1 L419.5,352.0 L420.0,351.8 L420.5,351.7 L421.0,351.5 L421.5,351.4 L422.0,351.2 L422.5,351.0 L423.0,350.9 L423.5,350.8 L424.0,350.5 L424.5,350.2 L425.0,349.9 L425.5,349.7 L426.0,349.5 L426.5,349.3 L427.0,349.1 L427.5,348.8 L428.0,348.6 L428.5,348.4 L429.0,348.0 L429.5,347.7 L430.0,347.5 L430.5,347.4 L431.0,347.3 L431.5,346.9 L432.0,346.6 L432.5,346.3 L433.0,346.1 L433.5,346.0 L434.0,345.8 L434.5,345.7 L435.0,345.4 L435.5,345.2 L436.0,344.7 L436.5,344.4 L437.0,344.0 L437.5,343.7 L438.0,343.4 L438.5,343.2 L439.0,342.8 L439.5,342.7 L440.0,342.4 L440.5,342.2 L441.0,341.9 L441.5,341.7 L442.0,341.4 L442.5,341.0 L443.0,340.8 L443.5,340.6 L444.0,340.4 L444.5,340.1 L445.0,339.7 L445.5,339.5 L446.0,339.3 L446.5,339.2 L447.0,338.9 L447.5,338.7 L448.0,338.4 L448.5,338.1 L449.0,337.6 L449.5,337.2 L450.0,336.8 L450.5,336.6 L451.0,336.4 L451.5,336.2 L452.0,335.9 L452.5,335.6 L453.0,335.3 L453.5,335.0 L454.0,334.7 L454.5,334.5 L455.0,334.2 L455.5,333.8 L456.0,333.6 L456.5,333.4 L457.0,333.3" stroke="#0000ff" stroke-width="2.6"/>
<path d="M36.4,306.6 L36.9,307.0 L37.4,307.3 L37.9,307.7 L38.4,308.0 L38.9,308.4 L39.4,308.8 L39.9,309.1 L40.4,309.5 L40.9,309.8 L41.4,310.2 L41.9,310.6 L42.4,310.9 L42.9,311.3 L43.4,311.6 L43.9,312.0 L44.4,312.3 L44.9,312.7 L45.4,313.0 L45.9,313.4 L46.4,313.8 L46.9,314.1 L47.4,314.5 L47.9,314.8 L48.4,315.2 L48.9,315.5 L49.4,315.9 L49.9,316.2 L50.4,316.6 L50.9,316.9 L51.4,317.2 L51.9,317.6 L52.4,317.9 L52.9,318.3 L53.4,318.6 L53.9,319.0 L54.4,319.3 L54.9,319.7 L55.4,320.0 L55.9,320.3 L56.4,320.7 L56.9,321.0 L57.4,321.4 L57.9,321.7 L58.4,322.0 L58.9,322.4 L59.4,322.7 L59.9,323.0 L60.4,323.4 L60.9,323.7 L61.4,324.0 L61.9,324.4 L62.4,324.7 L62.9,325.0 L63.4,325.4 L63.9,325.7 L64.4,326.0 L64.9,326.4 L65.4,326.7 L65.9,327.0 L66.4,327.4 L66.9,327.7 L67.4,328.0 L67.9,328.3 L68.4,328.7 L68.9,329.0 L69.4,329.3 L69.9,329.6 L70.4,330.0 L70.9,330.3 L71.4,330.6 L71.9,330.9 L72.4,331.2 L72.9,331.6 L73.4,331.9 L73.9,332.2 L74.4,332.5 L74.9,332.8 L75.4,333.1 L75.9,333.5 L76.4,333.8 L76.9,334.1 L77.4,334.4 L77.9,334.7 L78.4,335.0 L78.9,335.3 L79.4,335.6 L79.9,336.0 L80.4,336.3 L80.9,336.6 L81.4,336.9 L81.9,337.2 L82.4,337.5 L82.9,337.8 L83.4,338.1 L83.9,338.4 L84.4,338.7 L84.9,339.0 L85.4,339.3 L85.9,339.6 L86.4,339.9 L86.9,340.2 L87.4,340.5 L87.9,340.8 L88.4,341.1 L88.9,341.4 L89.4,341.7 L89.9,342.0 L90.4,342.3 L90.9,342.6 L91.4,342.9 L91.9,343.2 L92.4,343.5 L92.9,343.8 L93.4,344.1 L93.9,344.3 L94.4,344.6 L94.9,344.9 L95.4,345.2 L95.9,345.5 L96.4,345.8 L96.9,346.1 L97.4,346.4 L97.9,346.6 L98.4,346.9 L98.9,347.2 L99.4,347.5 L99.9,347.8 L100.4,348.0 L100.9,348.3 L101.4,348.6 L101.9,348.9 L102.4,349.2 L102.9,349.4 L103.4,349.7 L103.9,350.0 L104.4,350.3 L104.9,350.5 L105.4,350.8 L105.9,351.1 L106.4,351.4 L106.9,351.6 L107.4,351.9 L107.9,352.2 L108.4,352.4 L108.9,352.7 L109.4,353.0 L109.9,353.2 L110.4,353.5 L110.9,353.7 L111.4,354.0 L111.9,354.3 L112.4,354.5 L112.9,354.8 L113.4,355.0 L113.9,355.3 L114.4,355.6 L114.9,355.8 L115.4,356.1 L115.9,356.3 L116.4,356.6 L116.9,356.8 L117.4,357.1 L117.9,357.3 L118.4,357.6 L118.9,357.8 L119.4,358.1 L119.9,358.3 L120.4,358.6 L120.9,358.8 L121.4,359.1 L121.9,359.3 L122.4,359.6 L122.9,359.8 L123.4,360.1 L123.9,360.3 L124.4,360.5 L124.9,360.8 L125.4,361.0 L125.9,361.3 L126.4,361.5 L126.9,361.7 L127.4,362.0 L127.9,362.2 L128.4,362.4 L128.9,362.7 L129.4,362.9 L129.9,363.1 L130.4,363.4 L130.9,363.6 L131.4,363.8 L131.9,364.1 L132.4,364.3 L132.9,364.5 L133.4,364.7 L133.9,365.0 L134.4,365.2 L134.9,365.4 L135.4,365.6 L135.9,365.9 L136.4,366.1 L136.9,366.3 L137.4,366.5 L137.9,366.8 L138.4,367.0 L138.9,367.2 L139.4,367.4 L139.9,367.6 L140.4,367.8 L140.9,368.1 L141.4,368.3 L141.9,368.5 L142.4,368.7 L142.9,368.9 L143.4,369.1 L143.9,369.3 L144.4,369.6 L144.9,369.8 L145.4,370.0 L145.9,370.2 L146.4,370.4 L146.9,370.6 L147.4,370.8 L147.9,371.0 L148.4,371.2 L148.9,371.4 L149.4,371.6 L149.9,371.8 L150.4,372.0 L150.9,372.2 L151.4,372.4 L151.9,372.6 L152.4,372.8 L152.9,373.0 L153.4,373.2 L153.9,373.4 L154.4,373.6 L154.9,373.8 L155.4,374.0 L155.9,374.2 L156.4,374.4 L156.9,374.6 L157.4,374.8 L157.9,375.0 L158.4,375.2 L158.9,375.4 L159.4,375.5 L159.9,375.7 L160.4,375.9 L160.9,376.1 L161.4,376.3 L161.9,376.5 L162.4,376.7 L162.9,376.8 L163.4,377.0 L163.9,377.2 L164.4,377.4 L164.9,377.6 L165.4,377.7 L165.9,377.9 L166.4,378.1 L166.9,378.3 L167.4,378.4 L167.9,378.6 L168.4,378.8 L168.9,378.9 L169.4,379.1 L169.9,379.3 L170.4,379.5 L170.9,379.6 L171.4,379.8 L171.9,380.0 L172.4,380.1 L172.9,380.3 L173.4,380.5 L173.9,380.6 L174.4,380.8 L174.9,380.9 L175.4,381.1 L175.9,381.3 L176.4,381.4 L176.9,381.6 L177.4,381.7 L177.9,381.9 L178.4,382.0 L178.9,382.2 L179.4,382.4 L179.9,382.5 L180.4,382.7 L180.9,382.8 L181.4,383.0 L181.9,383.1 L182.4,383.3 L182.9,383.4 L183.4,383.5 L183.9,383.7 L184.4,383.8 L184.9,384.0 L185.4,384.1 L185.9,384.3 L186.4,384.4 L186.9,384.5 L187.4,384.7 L187.9,384.8 L188.4,385.0 L188.9,385.1 L189.4,385.2 L189.9,385.4 L190.4,385.5 L190.9,385.6 L191.4,385.8 L191.9,385.9 L192.4,386.0 L192.9,386.2 L193.4,386.3 L193.9,386.4 L194.4,386.5 L194.9,386.7 L195.4,386.8 L195.9,386.9 L196.4,387.0 L196.9,387.2 L197.4,387.3 L197.9,387.4 L198.4,387.5 L198.9,387.6 L199.4,387.8 L199.9,387.9 L200.4,388.0 L200.9,388.1 L201.4,388.2 L201.9,388.3 L202.4,388.4 L202.9,388.6 L203.4,388.7 L203.9,388.8 L204.4,388.9 L204.9,389.0 L205.4,389.1 L205.9,389.2 L206.4,389.3 L206.9,389.4 L207.4,389.5 L207.9,389.6 L208.4,389.7 L208.9,389.8 L209.4,389.9 L209.9,390.0 L210.4,390.1 L210.9,390.2 L211.4,390.3 L211.9,390.4 L212.4,390.5 L212.9,390.6 L213.4,390.7 L213.9,390.8 L214.4,390.9 L214.9,391.0 L215.4,391.1 L215.9,391.1 L216.4,391.2 L216.9,391.3 L217.4,391.4 L217.9,391.5 L218.4,391.6 L218.9,391.7 L219.4,391.7 L219.9,391.8 L220.4,391.9 L220.9,392.0 L221.4,392.0 L221.9,392.1 L222.4,392.2 L222.9,392.3 L223.4,392.4 L223.9,392.4 L224.4,392.5 L224.9,392.6 L225.4,392.6 L225.9,392.7 L226.4,392.8 L226.9,392.8 L227.4,392.9 L227.9,393.0 L228.4,393.0 L228.9,393.1 L229.4,393.2 L229.9,393.2 L230.4,393.3 L230.9,393.4 L231.4,393.4 L231.9,393.5 L232.4,393.5 L232.9,393.6 L233.4,393.6 L233.9,393.7 L234.4,393.7 L234.9,393.8 L235.4,393.9 L235.9,393.9 L236.4,394.0 L236.9,394.0 L237.4,394.1 L237.9,394.1 L238.4,394.1 L238.9,394.2 L239.4,394.2 L239.9,394.3 L240.4,394.3 L240.9,394.4 L241.4,394.4 L241.9,394.4 L242.4,394.5 L242.9,394.5 L243.4,394.6 L243.9,394.6 L244.4,394.6 L244.9,394.7 L245.4,394.7 L245.9,394.7 L246.4,394.8 L247.0,394.8 L247.5,394.8 L248.0,394.8 L248.5,394.9 L249.0,394.9 L249.5,394.9 L250.0,395.0 L250.5,395.0 L251.0,395.0 L251.5,395.0 L252.0,395.0 L252.5,395.1 L253.0,395.1 L253.5,395.1 L254.0,395.1 L254.5,395.1 L255.0,395.2 L255.5,395.2 L256.0,395.2 L256.5,395.2 L257.0,395.2 L257.5,395.2 L258.0,395.2 L258.5,395.2 L259.0,395.2 L259.5,395.3 L260.0,395.3 L260.5,395.3 L261.0,395.3 L261.5,395.3 L262.0,395.3 L262.5,395.3 L263.0,395.3 L263.5,395.3 L264.0,395.3 L264.5,395.3 L265.0,395.3 L265.5,395.3 L266.0,395.3 L266.5,395.3 L267.0,395.3 L267.5,395.2 L268.0,395.2 L268.5,395.2 L269.0,395.2 L269.5,395.2 L270.0,395.2 L270.5,395.2 L271.0,395.2 L271.5,395.1 L272.0,395.1 L272.5,395.1 L273.0,395.1 L273.5,395.1 L274.0,395.1 L274.5,395.0 L275.0,395.0 L275.5,395.0 L276.0,395.0 L276.5,394.9 L277.0,394.9 L277.5,394.9 L278.0,394.9 L278.5,394.8 L279.0,394.8 L279.5,394.8 L280.0,394.8 L280.5,394.7 L281.0,394.7 L281.5,394.7 L282.0,394.6 L282.5,394.6 L283.0,394.6 L283.5,394.5 L284.0,394.5 L284.5,394.4 L285.0,394.4 L285.5,394.4 L286.0,394.3 L286.5,394.3 L287.0,394.2 L287.5,394.2 L288.0,394.1 L288.5,394.1 L289.0,394.0 L289.5,394.0 L290.0,394.0 L290.5,393.9 L291.0,393.9 L291.5,393.8 L292.0,393.7 L292.5,393.7 L293.0,393.6 L293.5,393.6 L294.0,393.5 L294.5,393.5 L295.0,393.4 L295.5,393.4 L296.0,393.3 L296.5,393.2 L297.0,393.2 L297.5,393.1 L298.0,393.1 L298.5,393.0 L299.0,392.9 L299.5,392.9 L300.0,392.8 L300.5,392.7 L301.0,392.7 L301.5,392.6 L302.0,392.5 L302.5,392.4 L303.0,392.4 L303.5,392.3 L304.0,392.2 L304.5,392.2 L305.0,392.1 L305.5,392.0 L306.0,391.9 L306.5,391.8 L307.0,391.8 L307.5,391.7 L308.0,391.6 L308.5,391.5 L309.0,391.4 L309.5,391.4 L310.0,391.3 L310.5,391.2 L311.0,391.1 L311.5,391.0 L312.0,390.9 L312.5,390.8 L313.0,390.8 L313.5,390.7 L314.0,390.6 L314.5,390.5 L315.0,390.4 L315.5,390.3 L316.0,390.2 L316.5,390.1 L317.0,390.0 L317.5,389.9 L318.0,389.8 L318.5,389.7 L319.0,389.6 L319.5,389.5 L320.0,389.4 L320.5,389.3 L321.0,389.2 L321.5,389.1 L322.0,389.0 L322.5,388.9 L323.0,388.8 L323.5,388.7 L324.0,388.6 L324.5,388.5 L325.0,388.4 L325.5,388.3 L326.0,388.1 L326.5,388.0 L327.0,387.9 L327.5,387.8 L328.0,387.7 L328.5,387.6 L329.0,387.5 L329.5,387.3 L330.0,387.2 L330.5,387.1 L331.0,387.0 L331.5,386.9 L332.0,386.7 L332.5,386.6 L333.0,386.5 L333.5,386.4 L334.0,386.2 L334.5,386.1 L335.0,386.0 L335.5,385.9 L336.0,385.7 L336.5,385.6 L337.0,385.5 L337.5,385.4 L338.0,385.2 L338.5,385.1 L339.0,385.0 L339.5,384.8 L340.0,384.7 L340.5,384.6 L341.0,384.4 L341.5,384.3 L342.0,384.1 L342.5,384.0 L343.0,383.9 L343.5,383.7 L344.0,383.6 L344.5,383.4 L345.0,383.3 L345.5,383.2 L346.0,383.0 L346.5,382.9 L347.0,382.7 L347.5,382.6 L348.0,382.4 L348.5,382.3 L349.0,382.1 L349.5,382.0 L350.0,381.8 L350.5,381.7 L351.0,381.5 L351.5,381.4 L352.0,381.2 L352.5,381.1 L353.0,380.9 L353.5,380.8 L354.0,380.6 L354.5,380.5 L355.0,380.3 L355.5,380.1 L356.0,380.0 L356.5,379.8 L357.0,379.7 L357.5,379.5 L358.0,379.3 L358.5,379.2 L359.0,379.0 L359.5,378.8 L360.0,378.7 L360.5,378.5 L361.0,378.3 L361.5,378.2 L362.0,378.0 L362.5,377.8 L363.0,377.7 L363.5,377.5 L364.0,377.3 L364.5,377.2 L365.0,377.0 L365.5,376.8 L366.0,376.7 L366.5,376.5 L367.0,376.3 L367.5,376.1 L368.0,376.0 L368.5,375.8 L369.0,375.6 L369.5,375.4 L370.0,375.3 L370.5,375.1 L371.0,374.9 L371.5,374.7 L372.0,374.6 L372.5,374.4 L373.0,374.2 L373.5,374.0 L374.0,373.9 L374.5,373.7 L375.0,373.5 L375.5,373.3 L376.0,373.1 L376.5,373.0 L377.0,372.8 L377.5,372.6 L378.0,372.4 L378.5,372.2 L379.0,372.0 L379.5,371.9 L380.0,371.7 L380.5,371.5 L381.0,371.3 L381.5,371.1 L382.0,370.9 L382.5,370.7 L383.0,370.5 L383.5,370.3 L384.0,370.2 L384.5,370.0 L385.0,369.8 L385.5,369.6 L386.0,369.4 L386.5,369.2 L387.0,369.0 L387.5,368.8 L388.0,368.6 L388.5,368.4 L389.0,368.2 L389.5,368.0 L390.0,367.8 L390.5,367.6 L391.0,367.4 L391.5,367.2 L392.0,367.0 L392.5,366.8 L393.0,366.6 L393.5,366.4 L394.0,366.2 L394.5,366.0 L395.0,365.8 L395.5,365.5 L396.0,365.3 L396.5,365.1 L397.0,364.9 L397.5,364.7 L398.0,364.5 L398.5,364.3 L399.0,364.1 L399.5,363.8 L400.0,363.6 L400.5,363.4 L401.0,363.2 L401.5,363.0 L402.0,362.7 L402.5,362.5 L403.0,362.3 L403.5,362.1 L404.0,361.9 L404.5,361.6 L405.0,361.4 L405.5,361.2 L406.0,361.0 L406.5,360.7 L407.0,360.5 L407.5,360.3 L408.0,360.1 L408.5,359.8 L409.0,359.6 L409.5,359.4 L410.0,359.1 L410.5,358.9 L411.0,358.7 L411.5,358.4 L412.0,358.2 L412.5,358.0 L413.0,357.7 L413.5,357.5 L414.0,357.3 L414.5,357.0 L415.0,356.8 L415.5,356.5 L416.0,356.3 L416.5,356.1 L417.0,355.8 L417.5,355.6 L418.0,355.3 L418.5,355.1 L419.0,354.9 L419.5,354.6 L420.0,354.4 L420.5,354.1 L421.0,353.9 L421.5,353.6 L422.0,353.4 L422.5,353.1 L423.0,352.9 L423.5,352.6 L424.0,352.4 L424.5,352.1 L425.0,351.9 L425.5,351.6 L426.0,351.4 L426.5,351.1 L427.0,350.9 L427.5,350.6 L428.0,350.4 L428.5,350.1 L429.0,349.9 L429.5,349.6 L430.0,349.4 L430.5,349.1 L431.0,348.9 L431.5,348.6 L432.0,348.3 L432.5,348.1 L433.0,347.8 L433.5,347.6 L434.0,347.3 L434.5,347.0 L435.0,346.8 L435.5,346.5 L436.0,346.3 L436.5,346.0 L437.0,345.7 L437.5,345.5 L438.0,345.2 L438.5,344.9 L439.0,344.7 L439.5,344.4 L440.0,344.1 L440.5,343.9 L441.0,343.6 L441.5,343.3 L442.0,343.1 L442.5,342.8 L443.0,342.5 L443.5,342.3 L444.0,342.0 L444.5,341.7 L445.0,341.5 L445.5,341.2 L446.0,340.9 L446.5,340.6 L447.0,340.4 L447.5,340.1 L448.0,339.8 L448.5,339.6 L449.0,339.3 L449.5,339.0 L450.0,338.7 L450.5,338.4 L451.0,338.2 L451.5,337.9 L452.0,337.6 L452.5,337.3 L453.0,337.1 L453.5,336.8 L454.0,336.5 L454.5,336.2 L455.0,335.9 L455.5,335.7 L456.0,335.4 L456.5,335.1 L457.0,334.8" stroke="#ff0000" stroke-width="1.25"/>
</g>
<!-- legend -->
<g fill="none" stroke-linecap="round">
<line x1="140" y1="156.5" x2="178.8" y2="156.5" stroke="#0000ff" stroke-width="2.7"/>
<line x1="139.4" y1="177.8" x2="179.4" y2="177.8" stroke="#ff0000" stroke-width="1.2"/>
<line x1="140" y1="199.65" x2="178.8" y2="199.65" stroke="#808000" stroke-width="2.45"/>
</g>
<text x="183.9" y="162.5" font-size="17.43" stroke="#000" stroke-width="0.15">Expt.</text>
<text x="183.9" y="183.9" font-size="17.43" stroke="#000" stroke-width="0.15">Gauss Background</text>
<text x="183.9" y="205.7" font-size="17.43" stroke="#000" stroke-width="0.15">Expt. with Background removed</text>
<text x="43.2" y="139.9" font-size="21.5" stroke="#000" stroke-width="0.25">(a)</text>
<text x="71.6" y="141" font-size="20.9" stroke="#000" stroke-width="0.3">B = 0 Gauss</text>
<text x="43.2" y="302.6" font-size="21.5" stroke="#000" stroke-width="0.25">(b)</text>
<text x="72.3" y="303.7" font-size="20.9" stroke="#000" stroke-width="0.3">B = 44.3 Gauss</text>
<text x="127" y="463.7" font-size="17.6" text-anchor="middle">-100</text>
<text x="255.5" y="463.7" font-size="17.6" text-anchor="middle">0</text>
<text x="383.5" y="463.7" font-size="17.6" text-anchor="middle">100</text>
<text x="249.9" y="487.9" font-size="25.5" text-anchor="middle">Probe detuning (MHz)</text>
<text transform="translate(21.2,288) rotate(-90)" font-size="25.35" text-anchor="middle">Transmission (arbit. units)</text>
</svg>
</body></html>
